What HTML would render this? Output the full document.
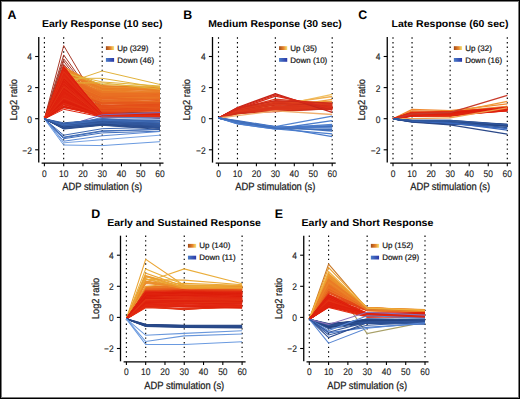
<!DOCTYPE html><html><head><meta charset="utf-8"><style>html,body{margin:0;padding:0;background:#000;width:520px;height:399px;overflow:hidden}#g{position:absolute;left:1px;top:1px;width:518px;height:397px;background:#7a7a7a}#f{position:absolute;left:2px;top:2px;width:516px;height:395px;background:#fff;overflow:hidden}svg{position:absolute;left:-2px;top:-2px}</style></head><body><div id="g"></div><div id="f">
<svg width="520" height="399" viewBox="0 0 520 399" text-rendering="geometricPrecision" font-family='"Liberation Sans", sans-serif'>
<defs><linearGradient id="gup"><stop offset="0" stop-color="#a04a1a"/><stop offset="0.55" stop-color="#e8842a"/><stop offset="1" stop-color="#f2e478"/></linearGradient><linearGradient id="gdn"><stop offset="0" stop-color="#4a7cc8"/><stop offset="1" stop-color="#2a38a8"/></linearGradient></defs>
<text x="7.60" y="18.70" font-size="12.4" font-weight="bold">A</text>
<text x="41.90" y="27.40" font-size="10" font-weight="bold" textLength="120.50" lengthAdjust="spacingAndGlyphs">Early Response (10 sec)</text>
<line x1="44.40" y1="37.35" x2="44.40" y2="160.80" stroke="#000" stroke-width="1.15" stroke-dasharray="1.4 3.23"/>
<line x1="63.67" y1="37.35" x2="63.67" y2="160.80" stroke="#000" stroke-width="1.15" stroke-dasharray="1.4 3.23"/>
<line x1="102.20" y1="37.35" x2="102.20" y2="160.80" stroke="#000" stroke-width="1.15" stroke-dasharray="1.4 3.23"/>
<line x1="160.00" y1="37.35" x2="160.00" y2="160.80" stroke="#000" stroke-width="1.15" stroke-dasharray="1.4 3.23"/>
<text x="183.30" y="18.70" font-size="12.4" font-weight="bold">B</text>
<text x="208.20" y="27.40" font-size="10" font-weight="bold" textLength="133.60" lengthAdjust="spacingAndGlyphs">Medium Response (30 sec)</text>
<line x1="218.50" y1="37.35" x2="218.50" y2="160.80" stroke="#000" stroke-width="1.15" stroke-dasharray="1.4 3.23"/>
<line x1="237.45" y1="37.35" x2="237.45" y2="160.80" stroke="#000" stroke-width="1.15" stroke-dasharray="1.4 3.23"/>
<line x1="275.35" y1="37.35" x2="275.35" y2="160.80" stroke="#000" stroke-width="1.15" stroke-dasharray="1.4 3.23"/>
<line x1="332.20" y1="37.35" x2="332.20" y2="160.80" stroke="#000" stroke-width="1.15" stroke-dasharray="1.4 3.23"/>
<text x="358.30" y="18.70" font-size="12.4" font-weight="bold">C</text>
<text x="391.60" y="27.40" font-size="10" font-weight="bold" textLength="116.80" lengthAdjust="spacingAndGlyphs">Late Response (60 sec)</text>
<line x1="393.00" y1="37.35" x2="393.00" y2="160.80" stroke="#000" stroke-width="1.15" stroke-dasharray="1.4 3.23"/>
<line x1="412.05" y1="37.35" x2="412.05" y2="160.80" stroke="#000" stroke-width="1.15" stroke-dasharray="1.4 3.23"/>
<line x1="450.15" y1="37.35" x2="450.15" y2="160.80" stroke="#000" stroke-width="1.15" stroke-dasharray="1.4 3.23"/>
<line x1="507.30" y1="37.35" x2="507.30" y2="160.80" stroke="#000" stroke-width="1.15" stroke-dasharray="1.4 3.23"/>
<text x="91.30" y="218.00" font-size="12.4" font-weight="bold">D</text>
<text x="107.20" y="226.10" font-size="10" font-weight="bold" textLength="153.70" lengthAdjust="spacingAndGlyphs">Early and Sustained Response</text>
<line x1="126.40" y1="235.55" x2="126.40" y2="359.50" stroke="#000" stroke-width="1.15" stroke-dasharray="1.4 3.23"/>
<line x1="145.68" y1="235.55" x2="145.68" y2="359.50" stroke="#000" stroke-width="1.15" stroke-dasharray="1.4 3.23"/>
<line x1="184.25" y1="235.55" x2="184.25" y2="359.50" stroke="#000" stroke-width="1.15" stroke-dasharray="1.4 3.23"/>
<line x1="242.10" y1="235.55" x2="242.10" y2="359.50" stroke="#000" stroke-width="1.15" stroke-dasharray="1.4 3.23"/>
<text x="274.80" y="218.00" font-size="12.4" font-weight="bold">E</text>
<text x="301.50" y="226.10" font-size="10" font-weight="bold" textLength="131.90" lengthAdjust="spacingAndGlyphs">Early and Short Response</text>
<line x1="309.30" y1="235.55" x2="309.30" y2="359.50" stroke="#000" stroke-width="1.15" stroke-dasharray="1.4 3.23"/>
<line x1="328.58" y1="235.55" x2="328.58" y2="359.50" stroke="#000" stroke-width="1.15" stroke-dasharray="1.4 3.23"/>
<line x1="367.15" y1="235.55" x2="367.15" y2="359.50" stroke="#000" stroke-width="1.15" stroke-dasharray="1.4 3.23"/>
<line x1="425.00" y1="235.55" x2="425.00" y2="359.50" stroke="#000" stroke-width="1.15" stroke-dasharray="1.4 3.23"/>
<polyline points="44.4,118.9 63.7,45.6 102.2,110.9 160.0,114.0" fill="none" stroke="#a83a2a" stroke-width="1.0"/>
<polyline points="44.4,118.9 63.7,54.9 102.2,109.4 160.0,110.9" fill="none" stroke="#a83a2a" stroke-width="1.0"/>
<polyline points="44.4,118.9 63.7,58.8 102.2,107.8 160.0,109.4" fill="none" stroke="#a83a2a" stroke-width="1.0"/>
<polyline points="44.4,118.9 63.7,61.3 102.2,111.7 160.0,112.5" fill="none" stroke="#a83a2a" stroke-width="1.0"/>
<polyline points="44.4,118.9 63.7,64.4 102.2,106.3 160.0,107.8" fill="none" stroke="#a83a2a" stroke-width="1.0"/>
<polyline points="44.4,118.9 63.7,67.1 102.2,110.1 160.0,110.9" fill="none" stroke="#a83a2a" stroke-width="1.0"/>
<polyline points="44.4,118.9 63.7,70.0 102.2,112.5 160.0,113.3" fill="none" stroke="#a83a2a" stroke-width="1.0"/>
<polyline points="44.4,118.9 63.7,97.9 102.2,111.1 160.0,106.4" fill="none" stroke="#e5531a" stroke-width="1.0"/>
<polyline points="44.4,118.9 63.7,89.0 102.2,102.0 160.0,103.9" fill="none" stroke="#e7621e" stroke-width="1.0"/>
<polyline points="44.4,118.9 63.7,86.9 102.2,98.9 160.0,98.3" fill="none" stroke="#e7621f" stroke-width="1.0"/>
<polyline points="44.4,118.9 63.7,88.4 102.2,103.6 160.0,104.9" fill="none" stroke="#e65c1d" stroke-width="1.0"/>
<polyline points="44.4,118.9 63.7,78.2 102.2,97.1 160.0,97.3" fill="none" stroke="#e96d22" stroke-width="1.0"/>
<polyline points="44.4,118.9 63.7,81.2 102.2,97.0 160.0,96.5" fill="none" stroke="#ea7c26" stroke-width="1.0"/>
<polyline points="44.4,118.9 63.7,86.1 102.2,103.0 160.0,101.5" fill="none" stroke="#e65b1d" stroke-width="1.0"/>
<polyline points="44.4,118.9 63.7,87.8 102.2,102.8 160.0,104.3" fill="none" stroke="#e75e1d" stroke-width="1.0"/>
<polyline points="44.4,118.9 63.7,96.0 102.2,106.5 160.0,106.5" fill="none" stroke="#e6581c" stroke-width="1.0"/>
<polyline points="44.4,118.9 63.7,79.2 102.2,93.8 160.0,92.4" fill="none" stroke="#ea7c26" stroke-width="1.0"/>
<polyline points="44.4,118.9 63.7,97.7 102.2,105.7 160.0,106.5" fill="none" stroke="#e55019" stroke-width="1.0"/>
<polyline points="44.4,118.9 63.7,90.4 102.2,103.7 160.0,102.3" fill="none" stroke="#e65a1c" stroke-width="1.0"/>
<polyline points="44.4,118.9 63.7,83.9 102.2,100.0 160.0,98.9" fill="none" stroke="#e96b21" stroke-width="1.0"/>
<polyline points="44.4,118.9 63.7,79.5 102.2,94.7 160.0,93.8" fill="none" stroke="#ea7725" stroke-width="1.0"/>
<polyline points="44.4,118.9 63.7,80.9 102.2,96.5 160.0,94.7" fill="none" stroke="#ea7524" stroke-width="1.0"/>
<polyline points="44.4,118.9 63.7,95.9 102.2,107.5 160.0,105.2" fill="none" stroke="#e5541a" stroke-width="1.0"/>
<polyline points="44.4,118.9 63.7,92.5 102.2,107.9 160.0,106.8" fill="none" stroke="#e44717" stroke-width="1.0"/>
<polyline points="44.4,118.9 63.7,74.2 102.2,92.6 160.0,91.9" fill="none" stroke="#ea7d26" stroke-width="1.0"/>
<polyline points="44.4,118.9 63.7,102.5 102.2,109.1 160.0,108.2" fill="none" stroke="#e44717" stroke-width="1.0"/>
<polyline points="44.4,118.9 63.7,71.4 102.2,85.9 160.0,87.4" fill="none" stroke="#eb902c" stroke-width="1.0"/>
<polyline points="44.4,118.9 63.7,82.3 102.2,98.3 160.0,98.7" fill="none" stroke="#e86921" stroke-width="1.0"/>
<polyline points="44.4,118.9 63.7,67.1 102.2,87.9 160.0,90.0" fill="none" stroke="#eb8128" stroke-width="1.0"/>
<polyline points="44.4,118.9 63.7,93.4 102.2,107.5 160.0,103.5" fill="none" stroke="#e5521a" stroke-width="1.0"/>
<polyline points="44.4,118.9 63.7,99.3 102.2,108.5 160.0,109.8" fill="none" stroke="#e44717" stroke-width="1.0"/>
<polyline points="44.4,118.9 63.7,82.8 102.2,97.8 160.0,98.2" fill="none" stroke="#e86520" stroke-width="1.0"/>
<polyline points="44.4,118.9 63.7,97.0 102.2,105.6 160.0,108.0" fill="none" stroke="#e86820" stroke-width="1.0"/>
<polyline points="44.4,118.9 63.7,74.6 102.2,93.6 160.0,94.7" fill="none" stroke="#ea7b26" stroke-width="1.0"/>
<polyline points="44.4,118.9 63.7,93.0 102.2,102.0 160.0,102.5" fill="none" stroke="#e65d1d" stroke-width="1.0"/>
<polyline points="44.4,118.9 63.7,84.5 102.2,98.0 160.0,98.4" fill="none" stroke="#e96f22" stroke-width="1.0"/>
<polyline points="44.4,118.9 63.7,82.9 102.2,97.8 160.0,98.9" fill="none" stroke="#e96d22" stroke-width="1.0"/>
<polyline points="44.4,118.9 63.7,67.2 102.2,86.5 160.0,88.0" fill="none" stroke="#eb8d2b" stroke-width="1.0"/>
<polyline points="44.4,118.9 63.7,75.5 102.2,92.5 160.0,94.2" fill="none" stroke="#eb7f27" stroke-width="1.0"/>
<polyline points="44.4,118.9 63.7,89.8 102.2,106.2 160.0,106.1" fill="none" stroke="#e5551b" stroke-width="1.0"/>
<polyline points="44.4,118.9 63.7,95.5 102.2,106.1 160.0,105.9" fill="none" stroke="#e44c18" stroke-width="1.0"/>
<polyline points="44.4,118.9 63.7,96.3 102.2,105.1 160.0,107.2" fill="none" stroke="#e65b1d" stroke-width="1.0"/>
<polyline points="44.4,118.9 63.7,82.0 102.2,98.3 160.0,97.5" fill="none" stroke="#ea7825" stroke-width="1.0"/>
<polyline points="44.4,118.9 63.7,102.2 102.2,110.8 160.0,111.0" fill="none" stroke="#e5511a" stroke-width="1.0"/>
<polyline points="44.4,118.9 63.7,70.2 102.2,90.8 160.0,89.2" fill="none" stroke="#eb8328" stroke-width="1.0"/>
<polyline points="44.4,118.9 63.7,101.1 102.2,109.6 160.0,107.5" fill="none" stroke="#e44918" stroke-width="1.0"/>
<polyline points="44.4,118.9 63.7,85.9 102.2,100.1 160.0,103.0" fill="none" stroke="#e7621e" stroke-width="1.0"/>
<polyline points="44.4,118.9 63.7,91.5 102.2,101.7 160.0,103.1" fill="none" stroke="#e86921" stroke-width="1.0"/>
<polyline points="44.4,118.9 63.7,99.0 102.2,109.6 160.0,107.4" fill="none" stroke="#e44617" stroke-width="1.0"/>
<polyline points="44.4,118.9 63.7,95.0 102.2,106.2 160.0,107.6" fill="none" stroke="#e65c1d" stroke-width="1.0"/>
<polyline points="44.4,118.9 63.7,70.3 102.2,88.3 160.0,88.2" fill="none" stroke="#eb932d" stroke-width="1.0"/>
<polyline points="44.4,118.9 63.7,99.7 102.2,110.3 160.0,107.5" fill="none" stroke="#e44f19" stroke-width="1.0"/>
<polyline points="44.4,118.9 63.7,72.1 102.2,88.4 160.0,89.5" fill="none" stroke="#eb8529" stroke-width="1.0"/>
<polyline points="44.4,118.9 63.7,80.2 102.2,97.8 160.0,97.0" fill="none" stroke="#ea7223" stroke-width="1.0"/>
<polyline points="44.4,118.9 63.7,91.9 102.2,106.4 160.0,106.1" fill="none" stroke="#e5521a" stroke-width="1.0"/>
<polyline points="44.4,118.9 63.7,96.7 102.2,111.9 160.0,109.3" fill="none" stroke="#e34316" stroke-width="1.0"/>
<polyline points="44.4,118.9 63.7,73.4 102.2,87.6 160.0,90.7" fill="none" stroke="#eb8529" stroke-width="1.0"/>
<polyline points="44.4,118.9 63.7,86.8 102.2,101.4 160.0,99.6" fill="none" stroke="#ea7223" stroke-width="1.0"/>
<polyline points="44.4,118.9 63.7,83.0 102.2,97.3 160.0,98.9" fill="none" stroke="#ea7424" stroke-width="1.0"/>
<polyline points="44.4,118.9 63.7,80.5 102.2,95.9 160.0,95.0" fill="none" stroke="#ea7123" stroke-width="1.0"/>
<polyline points="44.4,118.9 63.7,69.1 102.2,86.5 160.0,87.1" fill="none" stroke="#eb8428" stroke-width="1.0"/>
<polyline points="44.4,118.9 63.7,83.5 102.2,98.6 160.0,98.3" fill="none" stroke="#ea7424" stroke-width="1.0"/>
<polyline points="44.4,118.9 63.7,94.9 102.2,110.4 160.0,107.5" fill="none" stroke="#e44b18" stroke-width="1.0"/>
<polyline points="44.4,118.9 63.7,78.1 102.2,91.9 160.0,93.8" fill="none" stroke="#ea7725" stroke-width="1.0"/>
<polyline points="44.4,118.9 63.7,88.6 102.2,103.9 160.0,101.7" fill="none" stroke="#e7601e" stroke-width="1.0"/>
<polyline points="44.4,118.9 63.7,80.4 102.2,96.6 160.0,95.7" fill="none" stroke="#e96e22" stroke-width="1.0"/>
<polyline points="44.4,118.9 63.7,76.8 102.2,94.8 160.0,93.6" fill="none" stroke="#eb8027" stroke-width="1.0"/>
<polyline points="44.4,118.9 63.7,76.8 102.2,93.3 160.0,93.0" fill="none" stroke="#ea7624" stroke-width="1.0"/>
<polyline points="44.4,118.9 63.7,81.1 102.2,95.0 160.0,95.9" fill="none" stroke="#e96b21" stroke-width="1.0"/>
<polyline points="44.4,118.9 63.7,80.3 102.2,94.3 160.0,95.2" fill="none" stroke="#ea7b26" stroke-width="1.0"/>
<polyline points="44.4,118.9 63.7,87.5 102.2,101.9 160.0,101.8" fill="none" stroke="#e86720" stroke-width="1.0"/>
<polyline points="44.4,118.9 63.7,82.3 102.2,97.4 160.0,97.3" fill="none" stroke="#e96f22" stroke-width="1.0"/>
<polyline points="44.4,118.9 63.7,76.1 102.2,93.0 160.0,93.2" fill="none" stroke="#ea7223" stroke-width="1.0"/>
<polyline points="44.4,118.9 63.7,98.3 102.2,111.3 160.0,108.6" fill="none" stroke="#e6571b" stroke-width="1.0"/>
<polyline points="44.4,118.9 63.7,84.1 102.2,98.2 160.0,96.3" fill="none" stroke="#e96f22" stroke-width="1.0"/>
<polyline points="44.4,118.9 63.7,82.2 102.2,98.4 160.0,98.0" fill="none" stroke="#ea7224" stroke-width="1.0"/>
<polyline points="44.4,118.9 63.7,93.7 102.2,106.9 160.0,105.9" fill="none" stroke="#e55119" stroke-width="1.0"/>
<polyline points="44.4,118.9 63.7,82.1 102.2,96.4 160.0,94.7" fill="none" stroke="#ea7223" stroke-width="1.0"/>
<polyline points="44.4,118.9 63.7,82.1 102.2,97.4 160.0,98.2" fill="none" stroke="#e97023" stroke-width="1.0"/>
<polyline points="44.4,118.9 63.7,73.3 102.2,91.1 160.0,94.1" fill="none" stroke="#eb8529" stroke-width="1.0"/>
<polyline points="44.4,118.9 63.7,79.9 102.2,96.8 160.0,98.0" fill="none" stroke="#eb7f27" stroke-width="1.0"/>
<polyline points="44.4,118.9 63.7,86.6 102.2,101.0 160.0,97.8" fill="none" stroke="#e96c21" stroke-width="1.0"/>
<polyline points="44.4,118.9 63.7,85.2 102.2,95.6 160.0,98.6" fill="none" stroke="#ea7825" stroke-width="1.0"/>
<polyline points="44.4,118.9 63.7,91.6 102.2,104.1 160.0,100.3" fill="none" stroke="#e65c1d" stroke-width="1.0"/>
<polyline points="44.4,118.9 63.7,98.3 102.2,112.9 160.0,110.0" fill="none" stroke="#e33614" stroke-width="1.0"/>
<polyline points="44.4,118.9 63.7,90.2 102.2,100.5 160.0,103.6" fill="none" stroke="#e75f1e" stroke-width="1.0"/>
<polyline points="44.4,118.9 63.7,91.7 102.2,102.7 160.0,103.0" fill="none" stroke="#e5551b" stroke-width="1.0"/>
<polyline points="44.4,118.9 63.7,72.3 102.2,90.2 160.0,91.6" fill="none" stroke="#ea7e27" stroke-width="1.0"/>
<polyline points="44.4,118.9 63.7,84.0 102.2,96.3 160.0,98.0" fill="none" stroke="#ea7825" stroke-width="1.0"/>
<polyline points="44.4,118.9 63.7,82.2 102.2,95.6 160.0,98.6" fill="none" stroke="#ea7624" stroke-width="1.0"/>
<polyline points="44.4,118.9 63.7,71.4 102.2,89.1 160.0,92.6" fill="none" stroke="#eb8027" stroke-width="1.0"/>
<polyline points="44.4,118.9 63.7,100.8 102.2,111.9 160.0,109.3" fill="none" stroke="#e22e13" stroke-width="1.0"/>
<polyline points="44.4,118.9 63.7,85.3 102.2,98.4 160.0,100.2" fill="none" stroke="#e8641f" stroke-width="1.0"/>
<polyline points="44.4,118.9 63.7,94.7 102.2,107.6 160.0,105.7" fill="none" stroke="#e5561b" stroke-width="1.0"/>
<polyline points="44.4,118.9 63.7,69.3 102.2,85.5 160.0,88.6" fill="none" stroke="#ea7d26" stroke-width="1.0"/>
<polyline points="44.4,118.9 63.7,96.5 102.2,108.2 160.0,105.1" fill="none" stroke="#e44b18" stroke-width="1.0"/>
<polyline points="44.4,118.9 63.7,68.5 102.2,87.7 160.0,90.7" fill="none" stroke="#eb8f2b" stroke-width="1.0"/>
<polyline points="44.4,118.9 63.7,72.8 102.2,87.5 160.0,89.4" fill="none" stroke="#eb8a2a" stroke-width="1.0"/>
<polyline points="44.4,118.9 63.7,102.6 102.2,112.1 160.0,110.3" fill="none" stroke="#e44d18" stroke-width="1.0"/>
<polyline points="44.4,118.9 63.7,83.0 102.2,97.6 160.0,98.5" fill="none" stroke="#ea7625" stroke-width="1.0"/>
<polyline points="44.4,118.9 63.7,78.4 102.2,93.6 160.0,94.8" fill="none" stroke="#ea7324" stroke-width="1.0"/>
<polyline points="44.4,118.9 63.7,77.4 102.2,95.9 160.0,93.8" fill="none" stroke="#ea7725" stroke-width="1.0"/>
<polyline points="44.4,118.9 63.7,98.5 102.2,109.8 160.0,110.8" fill="none" stroke="#e34216" stroke-width="1.0"/>
<polyline points="44.4,118.9 63.7,96.1 102.2,110.9 160.0,109.5" fill="none" stroke="#e44d18" stroke-width="1.0"/>
<polyline points="44.4,118.9 63.7,73.4 102.2,88.1 160.0,90.3" fill="none" stroke="#ea7c26" stroke-width="1.0"/>
<polyline points="44.4,118.9 63.7,88.5 102.2,100.2 160.0,101.5" fill="none" stroke="#e96d22" stroke-width="1.0"/>
<polyline points="44.4,118.9 63.7,69.9 102.2,87.2 160.0,88.0" fill="none" stroke="#eb8d2b" stroke-width="1.0"/>
<polyline points="44.4,118.9 63.7,102.4 102.2,110.3 160.0,109.4" fill="none" stroke="#e55119" stroke-width="1.0"/>
<polyline points="44.4,118.9 63.7,80.0 102.2,96.3 160.0,96.0" fill="none" stroke="#ea7223" stroke-width="1.0"/>
<polyline points="44.4,118.9 63.7,96.2 102.2,107.7 160.0,107.8" fill="none" stroke="#e55119" stroke-width="1.0"/>
<polyline points="44.4,118.9 63.7,81.7 102.2,98.0 160.0,94.4" fill="none" stroke="#e86820" stroke-width="1.0"/>
<polyline points="44.4,118.9 63.7,96.8 102.2,108.6 160.0,105.9" fill="none" stroke="#e6591c" stroke-width="1.0"/>
<polyline points="44.4,118.9 63.7,91.5 102.2,104.0 160.0,105.1" fill="none" stroke="#e65a1c" stroke-width="1.0"/>
<polyline points="44.4,118.9 63.7,72.5 102.2,91.4 160.0,92.6" fill="none" stroke="#ea7f27" stroke-width="1.0"/>
<polyline points="44.4,118.9 63.7,71.5 102.2,89.4 160.0,90.4" fill="none" stroke="#ea7d26" stroke-width="1.0"/>
<polyline points="44.4,118.9 63.7,76.7 102.2,90.1 160.0,93.8" fill="none" stroke="#eb8829" stroke-width="1.0"/>
<polyline points="44.4,118.9 63.7,94.1 102.2,105.8 160.0,106.9" fill="none" stroke="#e6581c" stroke-width="1.0"/>
<polyline points="44.4,118.9 63.7,85.9 102.2,101.9 160.0,98.8" fill="none" stroke="#e96c22" stroke-width="1.0"/>
<polyline points="44.4,118.9 63.7,96.9 102.2,109.0 160.0,106.1" fill="none" stroke="#e5511a" stroke-width="1.0"/>
<polyline points="44.4,118.9 63.7,75.6 102.2,92.4 160.0,93.3" fill="none" stroke="#ea7a26" stroke-width="1.0"/>
<polyline points="44.4,118.9 63.7,72.1 102.2,89.2 160.0,89.2" fill="none" stroke="#eb8127" stroke-width="1.0"/>
<polyline points="44.4,118.9 63.7,77.6 102.2,96.4 160.0,95.6" fill="none" stroke="#e96a21" stroke-width="1.0"/>
<polyline points="44.4,118.9 63.7,78.4 102.2,91.5 160.0,93.2" fill="none" stroke="#ea7925" stroke-width="1.0"/>
<polyline points="44.4,118.9 63.7,79.8 102.2,93.8 160.0,93.4" fill="none" stroke="#e96f22" stroke-width="1.0"/>
<polyline points="44.4,118.9 63.7,97.5 102.2,106.2 160.0,108.0" fill="none" stroke="#e65c1d" stroke-width="1.0"/>
<polyline points="44.4,118.9 63.7,75.4 102.2,95.3 160.0,95.3" fill="none" stroke="#e96f23" stroke-width="1.0"/>
<polyline points="44.4,118.9 63.7,80.4 102.2,95.0 160.0,93.4" fill="none" stroke="#e96f23" stroke-width="1.0"/>
<polyline points="44.4,118.9 63.7,101.2 102.2,112.1 160.0,110.8" fill="none" stroke="#e44e19" stroke-width="1.0"/>
<polyline points="44.4,118.9 63.7,84.7 102.2,99.0 160.0,99.7" fill="none" stroke="#e96c21" stroke-width="1.0"/>
<polyline points="44.4,118.9 63.7,82.0 102.2,98.0 160.0,99.8" fill="none" stroke="#e86720" stroke-width="1.0"/>
<polyline points="44.4,118.9 63.7,93.1 102.2,106.2 160.0,104.2" fill="none" stroke="#e44c18" stroke-width="1.0"/>
<polyline points="44.4,118.9 63.7,96.1 102.2,105.4 160.0,105.0" fill="none" stroke="#e55019" stroke-width="1.0"/>
<polyline points="44.4,118.9 63.7,84.0 102.2,71.0 160.0,84.5" fill="none" stroke="#e2b23a" stroke-width="1.0"/>
<polyline points="44.4,118.9 63.7,73.0 102.2,82.0 160.0,86.0" fill="none" stroke="#e2b23a" stroke-width="1.0"/>
<polyline points="44.4,118.9 63.7,78.3 102.2,78.3 160.0,87.6" fill="none" stroke="#e2b23a" stroke-width="1.0"/>
<polyline points="44.4,118.9 63.7,82.9 102.2,82.9 160.0,89.2" fill="none" stroke="#e2b23a" stroke-width="1.0"/>
<polyline points="44.4,118.9 63.7,72.0 102.2,84.5 160.0,86.8" fill="none" stroke="#e2b23a" stroke-width="1.0"/>
<polyline points="44.4,118.9 63.7,74.0 102.2,114.3 160.0,114.2" fill="none" stroke="#df210d" stroke-width="1.0"/>
<polyline points="44.4,118.9 63.7,98.9 102.2,115.3 160.0,116.0" fill="none" stroke="#e12610" stroke-width="1.0"/>
<polyline points="44.4,118.9 63.7,71.7 102.2,116.5 160.0,116.8" fill="none" stroke="#de210d" stroke-width="1.0"/>
<polyline points="44.4,118.9 63.7,95.4 102.2,114.4 160.0,115.0" fill="none" stroke="#df210d" stroke-width="1.0"/>
<polyline points="44.4,118.9 63.7,77.7 102.2,115.0 160.0,117.4" fill="none" stroke="#e22a12" stroke-width="1.0"/>
<polyline points="44.4,118.9 63.7,75.5 102.2,113.7 160.0,116.5" fill="none" stroke="#e12711" stroke-width="1.0"/>
<polyline points="44.4,118.9 63.7,82.9 102.2,114.9 160.0,115.8" fill="none" stroke="#dd1e0b" stroke-width="1.0"/>
<polyline points="44.4,118.9 63.7,83.3 102.2,116.9 160.0,117.2" fill="none" stroke="#dd1d0b" stroke-width="1.0"/>
<polyline points="44.4,118.9 63.7,81.5 102.2,115.7 160.0,117.1" fill="none" stroke="#dd1d0b" stroke-width="1.0"/>
<polyline points="44.4,118.9 63.7,78.2 102.2,115.4 160.0,114.7" fill="none" stroke="#de200c" stroke-width="1.0"/>
<polyline points="44.4,118.9 63.7,94.9 102.2,113.7 160.0,116.5" fill="none" stroke="#e22e13" stroke-width="1.0"/>
<polyline points="44.4,118.9 63.7,74.6 102.2,114.5 160.0,117.2" fill="none" stroke="#dd1e0b" stroke-width="1.0"/>
<polyline points="44.4,118.9 63.7,89.0 102.2,113.6 160.0,114.1" fill="none" stroke="#e22711" stroke-width="1.0"/>
<polyline points="44.4,118.9 63.7,103.7 102.2,117.0 160.0,117.4" fill="none" stroke="#de210d" stroke-width="1.0"/>
<polyline points="44.4,118.9 63.7,91.2 102.2,114.3 160.0,116.2" fill="none" stroke="#e0240f" stroke-width="1.0"/>
<polyline points="44.4,118.9 63.7,97.4 102.2,114.3 160.0,116.6" fill="none" stroke="#e22b12" stroke-width="1.0"/>
<polyline points="44.4,118.9 63.7,102.9 102.2,117.0 160.0,113.7" fill="none" stroke="#de210d" stroke-width="1.0"/>
<polyline points="44.4,118.9 63.7,106.8 102.2,115.0 160.0,117.4" fill="none" stroke="#e33114" stroke-width="1.0"/>
<polyline points="44.4,118.9 63.7,72.5 102.2,115.2 160.0,115.9" fill="none" stroke="#de210d" stroke-width="1.0"/>
<polyline points="44.4,118.9 63.7,77.7 102.2,115.2 160.0,117.9" fill="none" stroke="#df210e" stroke-width="1.0"/>
<polyline points="44.4,118.9 63.7,89.8 102.2,115.0 160.0,115.3" fill="none" stroke="#e12711" stroke-width="1.0"/>
<polyline points="44.4,118.9 63.7,69.7 102.2,116.8 160.0,115.0" fill="none" stroke="#e22a12" stroke-width="1.0"/>
<polyline points="44.4,118.9 63.7,90.7 102.2,114.0 160.0,115.4" fill="none" stroke="#de210d" stroke-width="1.0"/>
<polyline points="44.4,118.9 63.7,92.3 102.2,115.2 160.0,116.5" fill="none" stroke="#dd1e0c" stroke-width="1.0"/>
<polyline points="44.4,118.9 63.7,101.1 102.2,117.3 160.0,115.3" fill="none" stroke="#de200d" stroke-width="1.0"/>
<polyline points="44.4,118.9 63.7,80.0 102.2,117.4 160.0,115.2" fill="none" stroke="#e12610" stroke-width="1.0"/>
<polyline points="44.4,118.9 63.7,91.6 102.2,114.9 160.0,115.6" fill="none" stroke="#df220e" stroke-width="1.0"/>
<polyline points="44.4,118.9 63.7,89.3 102.2,117.1 160.0,115.6" fill="none" stroke="#de210d" stroke-width="1.0"/>
<polyline points="44.4,118.9 63.7,91.7 102.2,115.5 160.0,117.8" fill="none" stroke="#dd1d0b" stroke-width="1.0"/>
<polyline points="44.4,118.9 63.7,76.1 102.2,114.0 160.0,114.7" fill="none" stroke="#e33214" stroke-width="1.0"/>
<polyline points="44.4,118.9 63.7,74.3 102.2,113.8 160.0,115.9" fill="none" stroke="#e22d13" stroke-width="1.0"/>
<polyline points="44.4,118.9 63.7,106.8 102.2,115.9 160.0,114.2" fill="none" stroke="#dd1e0b" stroke-width="1.0"/>
<polyline points="44.4,118.9 63.7,105.0 102.2,115.1 160.0,117.5" fill="none" stroke="#e12611" stroke-width="1.0"/>
<polyline points="44.4,118.9 63.7,93.6 102.2,116.4 160.0,115.4" fill="none" stroke="#e22c13" stroke-width="1.0"/>
<polyline points="44.4,118.9 63.7,84.8 102.2,116.5 160.0,117.2" fill="none" stroke="#df230e" stroke-width="1.0"/>
<polyline points="44.4,118.9 63.7,76.5 102.2,114.8 160.0,115.8" fill="none" stroke="#e22d13" stroke-width="1.0"/>
<polyline points="44.4,118.9 63.7,67.4 102.2,115.4 160.0,113.5" fill="none" stroke="#dd1e0b" stroke-width="1.0"/>
<polyline points="44.4,118.9 63.7,107.0 102.2,116.4 160.0,117.2" fill="none" stroke="#df210d" stroke-width="1.0"/>
<polyline points="44.4,118.9 63.7,81.7 102.2,116.4 160.0,113.5" fill="none" stroke="#e22f13" stroke-width="1.0"/>
<polyline points="44.4,118.9 63.7,74.8 102.2,115.6 160.0,114.5" fill="none" stroke="#dd1e0b" stroke-width="1.0"/>
<polyline points="44.4,118.9 63.7,84.0 102.2,116.6 160.0,116.6" fill="none" stroke="#e22c13" stroke-width="1.0"/>
<polyline points="44.4,118.9 63.7,101.1 102.2,115.1 160.0,115.7" fill="none" stroke="#e22c13" stroke-width="1.0"/>
<polyline points="44.4,118.9 63.7,73.2 102.2,116.5 160.0,114.3" fill="none" stroke="#df210d" stroke-width="1.0"/>
<polyline points="44.4,118.9 63.7,86.2 102.2,114.7 160.0,116.2" fill="none" stroke="#de1f0c" stroke-width="1.0"/>
<polyline points="44.4,118.9 63.7,85.8 102.2,115.6 160.0,114.9" fill="none" stroke="#e22812" stroke-width="1.0"/>
<polyline points="44.4,118.9 63.7,75.1 102.2,114.9 160.0,115.7" fill="none" stroke="#dd1e0c" stroke-width="1.0"/>
<polyline points="44.4,118.9 63.7,72.7 102.2,115.5 160.0,114.6" fill="none" stroke="#de200c" stroke-width="1.0"/>
<polyline points="44.4,118.9 63.7,81.6 102.2,115.0 160.0,116.1" fill="none" stroke="#dd1d0b" stroke-width="1.0"/>
<polyline points="44.4,118.9 63.7,94.2 102.2,116.0 160.0,114.6" fill="none" stroke="#e22b13" stroke-width="1.0"/>
<polyline points="44.4,118.9 63.7,67.8 102.2,113.7 160.0,115.1" fill="none" stroke="#e12611" stroke-width="1.0"/>
<polyline points="44.4,118.9 63.7,78.8 102.2,114.1 160.0,115.4" fill="none" stroke="#de200c" stroke-width="1.0"/>
<polyline points="44.4,118.9 63.7,88.5 102.2,115.3 160.0,117.3" fill="none" stroke="#e22812" stroke-width="1.0"/>
<polyline points="44.4,118.9 63.7,98.8 102.2,114.6 160.0,115.2" fill="none" stroke="#e12611" stroke-width="1.0"/>
<polyline points="44.4,118.9 63.7,99.5 102.2,117.4 160.0,115.7" fill="none" stroke="#e12611" stroke-width="1.0"/>
<polyline points="44.4,118.9 63.7,99.2 102.2,115.6 160.0,115.3" fill="none" stroke="#de1f0c" stroke-width="1.0"/>
<polyline points="44.4,118.9 63.7,67.2 102.2,114.5 160.0,115.9" fill="none" stroke="#e02510" stroke-width="1.0"/>
<polyline points="44.4,118.9 63.7,72.7 102.2,114.7 160.0,115.8" fill="none" stroke="#e12611" stroke-width="1.0"/>
<polyline points="44.4,118.9 63.7,75.9 102.2,116.9 160.0,114.6" fill="none" stroke="#de200d" stroke-width="1.0"/>
<polyline points="44.4,118.9 63.7,84.2 102.2,114.2 160.0,115.3" fill="none" stroke="#e23013" stroke-width="1.0"/>
<polyline points="44.4,118.9 63.7,92.8 102.2,115.3 160.0,116.3" fill="none" stroke="#e02410" stroke-width="1.0"/>
<polyline points="44.4,118.9 63.7,72.0 102.2,115.8 160.0,115.6" fill="none" stroke="#de1f0c" stroke-width="1.0"/>
<polyline points="44.4,118.9 63.7,101.0 102.2,116.5 160.0,117.6" fill="none" stroke="#df230f" stroke-width="1.0"/>
<polyline points="44.4,118.9 63.7,97.4 102.2,116.5 160.0,116.0" fill="none" stroke="#e12510" stroke-width="1.0"/>
<polyline points="44.4,118.9 63.7,71.6 102.2,115.0 160.0,116.2" fill="none" stroke="#dd1e0b" stroke-width="1.0"/>
<polyline points="44.4,118.9 63.7,83.7 102.2,114.4 160.0,116.4" fill="none" stroke="#de1f0c" stroke-width="1.0"/>
<polyline points="44.4,118.9 63.7,106.3 102.2,116.5 160.0,114.6" fill="none" stroke="#e22c13" stroke-width="1.0"/>
<polyline points="44.4,118.9 63.7,71.1 102.2,115.3 160.0,118.0" fill="none" stroke="#e02410" stroke-width="1.0"/>
<polyline points="44.4,118.9 63.7,71.7 102.2,114.6 160.0,115.1" fill="none" stroke="#e22711" stroke-width="1.0"/>
<polyline points="44.4,118.9 63.7,69.6 102.2,113.9 160.0,113.7" fill="none" stroke="#dc1d0a" stroke-width="1.0"/>
<polyline points="44.4,118.9 63.7,72.4 102.2,114.4 160.0,113.9" fill="none" stroke="#e23113" stroke-width="1.0"/>
<polyline points="44.4,118.9 63.7,99.3 102.2,115.3 160.0,114.2" fill="none" stroke="#e22812" stroke-width="1.0"/>
<polyline points="44.4,118.9 63.7,90.3 102.2,115.2 160.0,114.1" fill="none" stroke="#de1f0c" stroke-width="1.0"/>
<polyline points="44.4,118.9 63.7,84.6 102.2,114.7 160.0,114.7" fill="none" stroke="#de210d" stroke-width="1.0"/>
<polyline points="44.4,118.9 63.7,67.1 102.2,116.9 160.0,114.7" fill="none" stroke="#e22711" stroke-width="1.0"/>
<polyline points="44.4,118.9 63.7,80.2 102.2,115.3 160.0,114.4" fill="none" stroke="#de210d" stroke-width="1.0"/>
<polyline points="44.4,118.9 63.7,97.1 102.2,115.9 160.0,116.4" fill="none" stroke="#de200d" stroke-width="1.0"/>
<polyline points="44.4,118.9 63.7,89.9 102.2,116.6 160.0,116.0" fill="none" stroke="#df210e" stroke-width="1.0"/>
<polyline points="44.4,118.9 63.7,101.1 102.2,114.6 160.0,115.1" fill="none" stroke="#e12510" stroke-width="1.0"/>
<polyline points="44.4,118.9 63.7,101.3 102.2,114.8 160.0,116.0" fill="none" stroke="#de200d" stroke-width="1.0"/>
<polyline points="44.4,118.9 63.7,80.6 102.2,114.8 160.0,116.0" fill="none" stroke="#e12711" stroke-width="1.0"/>
<polyline points="44.4,118.9 63.7,72.3 102.2,114.7 160.0,117.1" fill="none" stroke="#e12711" stroke-width="1.0"/>
<polyline points="44.4,118.9 63.7,88.1 102.2,114.6 160.0,116.8" fill="none" stroke="#de1f0c" stroke-width="1.0"/>
<polyline points="44.4,118.9 63.7,73.2 102.2,115.9 160.0,116.7" fill="none" stroke="#e22c13" stroke-width="1.0"/>
<polyline points="44.4,118.9 63.7,69.8 102.2,117.0 160.0,115.0" fill="none" stroke="#de200d" stroke-width="1.0"/>
<polyline points="44.4,118.9 63.7,79.1 102.2,114.2 160.0,117.4" fill="none" stroke="#de1f0c" stroke-width="1.0"/>
<polyline points="44.4,118.9 63.7,77.8 102.2,115.7 160.0,114.3" fill="none" stroke="#dc1d0b" stroke-width="1.0"/>
<polyline points="44.4,118.9 63.7,82.4 102.2,114.6 160.0,114.1" fill="none" stroke="#e12711" stroke-width="1.0"/>
<polyline points="44.4,118.9 63.7,96.5 102.2,114.8 160.0,116.7" fill="none" stroke="#df220e" stroke-width="1.0"/>
<polyline points="44.4,118.9 63.7,72.2 102.2,115.5 160.0,114.7" fill="none" stroke="#dd1e0b" stroke-width="1.0"/>
<polyline points="44.4,118.9 63.7,88.6 102.2,114.3 160.0,115.2" fill="none" stroke="#e33114" stroke-width="1.0"/>
<polyline points="44.4,118.9 63.7,80.5 102.2,115.7 160.0,115.4" fill="none" stroke="#e02510" stroke-width="1.0"/>
<polyline points="44.4,118.9 63.7,87.2 102.2,114.2 160.0,113.9" fill="none" stroke="#e22a12" stroke-width="1.0"/>
<polyline points="44.4,118.9 63.7,75.1 102.2,117.2 160.0,115.3" fill="none" stroke="#e23113" stroke-width="1.0"/>
<polyline points="44.4,118.9 63.7,96.4 102.2,115.9 160.0,115.4" fill="none" stroke="#dc1c0a" stroke-width="1.0"/>
<polyline points="44.4,118.9 63.7,75.8 102.2,116.0 160.0,114.5" fill="none" stroke="#e22b12" stroke-width="1.0"/>
<polyline points="44.4,118.9 63.7,89.7 102.2,114.6 160.0,115.4" fill="none" stroke="#e12611" stroke-width="1.0"/>
<polyline points="44.4,118.9 63.7,81.6 102.2,114.0 160.0,114.3" fill="none" stroke="#e22711" stroke-width="1.0"/>
<polyline points="44.4,118.9 63.7,97.4 102.2,113.7 160.0,114.9" fill="none" stroke="#dc1c0a" stroke-width="1.0"/>
<polyline points="44.4,118.9 63.7,82.2 102.2,117.1 160.0,114.6" fill="none" stroke="#df220e" stroke-width="1.0"/>
<polyline points="44.4,118.9 63.7,99.8 102.2,115.6 160.0,116.0" fill="none" stroke="#e12711" stroke-width="1.0"/>
<polyline points="44.4,118.9 63.7,85.2 102.2,115.4 160.0,117.7" fill="none" stroke="#e22b12" stroke-width="1.0"/>
<polyline points="44.4,118.9 63.7,80.4 102.2,116.6 160.0,116.2" fill="none" stroke="#dd1e0b" stroke-width="1.0"/>
<polyline points="44.4,118.9 63.7,89.6 102.2,115.1 160.0,115.1" fill="none" stroke="#e12510" stroke-width="1.0"/>
<polyline points="44.4,118.9 63.7,80.0 102.2,115.6 160.0,116.1" fill="none" stroke="#e22b13" stroke-width="1.0"/>
<polyline points="44.4,118.9 63.7,83.7 102.2,117.8 160.0,114.9" fill="none" stroke="#df220e" stroke-width="1.0"/>
<polyline points="44.4,118.9 63.7,107.9 102.2,114.5 160.0,117.1" fill="none" stroke="#e22a12" stroke-width="1.0"/>
<polyline points="44.4,118.9 63.7,90.6 102.2,114.8 160.0,115.9" fill="none" stroke="#e12611" stroke-width="1.0"/>
<polyline points="44.4,118.9 63.7,87.9 102.2,115.3 160.0,117.1" fill="none" stroke="#dd1e0c" stroke-width="1.0"/>
<polyline points="44.4,118.9 63.7,79.1 102.2,115.2 160.0,115.6" fill="none" stroke="#e23113" stroke-width="1.0"/>
<polyline points="44.4,118.9 63.7,101.3 102.2,116.2 160.0,113.4" fill="none" stroke="#de210d" stroke-width="1.0"/>
<polyline points="44.4,118.9 63.7,98.9 102.2,114.2 160.0,117.0" fill="none" stroke="#e12610" stroke-width="1.0"/>
<polyline points="44.4,118.9 63.7,109.3 102.2,117.1 160.0,114.8" fill="none" stroke="#e02510" stroke-width="1.0"/>
<polyline points="44.4,118.9 63.7,87.5 102.2,114.6 160.0,114.8" fill="none" stroke="#e22e13" stroke-width="1.0"/>
<polyline points="44.4,118.9 63.7,83.8 102.2,116.9 160.0,114.5" fill="none" stroke="#dd1f0c" stroke-width="1.0"/>
<polyline points="44.4,118.9 63.7,72.9 102.2,116.2 160.0,115.8" fill="none" stroke="#df220e" stroke-width="1.0"/>
<polyline points="44.4,118.9 63.7,103.3 102.2,113.9 160.0,113.7" fill="none" stroke="#dd1d0b" stroke-width="1.0"/>
<polyline points="44.4,118.9 63.7,105.8 102.2,115.6 160.0,113.9" fill="none" stroke="#e22d13" stroke-width="1.0"/>
<polyline points="44.4,118.9 63.7,71.0 102.2,117.2 160.0,116.8" fill="none" stroke="#e22812" stroke-width="1.0"/>
<polyline points="44.4,118.9 63.7,96.3 102.2,115.5 160.0,114.3" fill="none" stroke="#e0240f" stroke-width="1.0"/>
<polyline points="44.4,118.9 63.7,79.4 102.2,114.8 160.0,113.5" fill="none" stroke="#e12611" stroke-width="1.0"/>
<polyline points="44.4,118.9 63.7,104.7 102.2,113.9 160.0,116.5" fill="none" stroke="#e12610" stroke-width="1.0"/>
<polyline points="44.4,118.9 63.7,87.5 102.2,116.6 160.0,114.1" fill="none" stroke="#dc1c0a" stroke-width="1.0"/>
<polyline points="44.4,118.9 63.7,81.4 102.2,115.0 160.0,114.8" fill="none" stroke="#dd1f0c" stroke-width="1.0"/>
<polyline points="44.4,118.9 63.7,80.3 102.2,114.5 160.0,115.5" fill="none" stroke="#de210d" stroke-width="1.0"/>
<polyline points="44.4,118.9 63.7,82.6 102.2,114.0 160.0,113.7" fill="none" stroke="#e02410" stroke-width="1.0"/>
<polyline points="44.4,118.9 63.7,78.8 102.2,114.4 160.0,116.6" fill="none" stroke="#df220e" stroke-width="1.0"/>
<polyline points="44.4,118.9 63.7,80.5 102.2,117.5 160.0,117.3" fill="none" stroke="#de210d" stroke-width="1.0"/>
<polyline points="44.4,118.9 63.7,78.3 102.2,113.2 160.0,113.7" fill="none" stroke="#de200c" stroke-width="1.0"/>
<polyline points="44.4,118.9 63.7,70.7 102.2,113.9 160.0,115.9" fill="none" stroke="#e12610" stroke-width="1.0"/>
<polyline points="44.4,118.9 63.7,91.9 102.2,114.6 160.0,115.4" fill="none" stroke="#e0240f" stroke-width="1.0"/>
<polyline points="44.4,118.9 63.7,89.2 102.2,114.2 160.0,117.6" fill="none" stroke="#e0230f" stroke-width="1.0"/>
<polyline points="44.4,118.9 63.7,89.5 102.2,115.0 160.0,116.4" fill="none" stroke="#e0230f" stroke-width="1.0"/>
<polyline points="44.4,118.9 63.7,102.0 102.2,114.7 160.0,116.6" fill="none" stroke="#e0240f" stroke-width="1.0"/>
<polyline points="44.4,118.9 63.7,104.2 102.2,116.9 160.0,117.6" fill="none" stroke="#e0230f" stroke-width="1.0"/>
<polyline points="44.4,118.9 63.7,86.1 102.2,116.4 160.0,115.8" fill="none" stroke="#de200c" stroke-width="1.0"/>
<polyline points="44.4,118.9 63.7,96.1 102.2,115.8 160.0,117.8" fill="none" stroke="#e22711" stroke-width="1.0"/>
<polyline points="44.4,118.9 63.7,85.2 102.2,116.4 160.0,114.2" fill="none" stroke="#e22d13" stroke-width="1.0"/>
<polyline points="44.4,118.9 63.7,70.8 102.2,116.6 160.0,114.1" fill="none" stroke="#e22d13" stroke-width="1.0"/>
<polyline points="44.4,118.9 63.7,100.7 102.2,115.4 160.0,117.5" fill="none" stroke="#dc1d0a" stroke-width="1.0"/>
<polyline points="44.4,118.9 63.7,79.4 102.2,117.4 160.0,115.7" fill="none" stroke="#e02510" stroke-width="1.0"/>
<polyline points="44.4,118.9 63.7,81.6 102.2,114.4 160.0,114.4" fill="none" stroke="#e23013" stroke-width="1.0"/>
<polyline points="44.4,118.9 63.7,88.0 102.2,115.0 160.0,114.7" fill="none" stroke="#e22b13" stroke-width="1.0"/>
<polyline points="44.4,118.9 63.7,79.9 102.2,116.2 160.0,116.1" fill="none" stroke="#df220e" stroke-width="1.0"/>
<polyline points="44.4,118.9 63.7,82.7 102.2,115.2 160.0,114.8" fill="none" stroke="#e22812" stroke-width="1.0"/>
<polyline points="44.4,118.9 63.7,71.9 102.2,117.7 160.0,116.1" fill="none" stroke="#e22a12" stroke-width="1.0"/>
<polyline points="44.4,118.9 63.7,88.9 102.2,117.7 160.0,117.0" fill="none" stroke="#e23013" stroke-width="1.0"/>
<polyline points="44.4,118.9 63.7,83.1 102.2,116.5 160.0,114.7" fill="none" stroke="#de200d" stroke-width="1.0"/>
<polyline points="44.4,118.9 63.7,103.9 102.2,114.1 160.0,114.4" fill="none" stroke="#dc1d0a" stroke-width="1.0"/>
<polyline points="44.4,118.9 63.7,88.6 102.2,116.1 160.0,114.8" fill="none" stroke="#e22712" stroke-width="1.0"/>
<polyline points="44.4,118.9 63.7,103.5 102.2,114.5 160.0,117.8" fill="none" stroke="#e22b13" stroke-width="1.0"/>
<polyline points="44.4,118.9 63.7,82.8 102.2,115.1 160.0,115.9" fill="none" stroke="#dd1e0b" stroke-width="1.0"/>
<polyline points="44.4,118.9 63.7,74.9 102.2,116.4 160.0,115.4" fill="none" stroke="#e0240f" stroke-width="1.0"/>
<polyline points="44.4,118.9 63.7,106.5 102.2,114.6 160.0,115.3" fill="none" stroke="#dc1c0a" stroke-width="1.0"/>
<polyline points="44.4,118.9 63.7,79.5 102.2,116.7 160.0,114.3" fill="none" stroke="#e02510" stroke-width="1.0"/>
<polyline points="44.4,118.9 63.7,83.4 102.2,116.0 160.0,114.7" fill="none" stroke="#de200d" stroke-width="1.0"/>
<polyline points="44.4,118.9 63.7,94.0 102.2,114.9 160.0,117.4" fill="none" stroke="#df230e" stroke-width="1.0"/>
<polyline points="44.4,118.9 63.7,79.3 102.2,115.2 160.0,114.9" fill="none" stroke="#e33114" stroke-width="1.0"/>
<polyline points="44.4,118.9 63.7,65.7 102.2,117.5 160.0,117.7" fill="none" stroke="#e22912" stroke-width="1.0"/>
<polyline points="44.4,118.9 63.7,69.5 102.2,113.4 160.0,114.2" fill="none" stroke="#de200d" stroke-width="1.0"/>
<polyline points="44.4,118.9 63.7,97.2 102.2,117.6 160.0,115.4" fill="none" stroke="#df230e" stroke-width="1.0"/>
<polyline points="44.4,118.9 63.7,88.6 102.2,117.0 160.0,116.3" fill="none" stroke="#dc1c0a" stroke-width="1.0"/>
<polyline points="44.4,118.9 63.7,80.8 102.2,114.2 160.0,116.3" fill="none" stroke="#de200c" stroke-width="1.0"/>
<polyline points="44.4,118.9 63.7,84.6 102.2,113.9 160.0,113.4" fill="none" stroke="#e22b12" stroke-width="1.0"/>
<polyline points="44.4,118.9 63.7,102.3 102.2,115.0 160.0,115.2" fill="none" stroke="#dc1d0a" stroke-width="1.0"/>
<polyline points="44.4,118.9 63.7,101.1 102.2,117.4 160.0,114.8" fill="none" stroke="#dd1f0c" stroke-width="1.0"/>
<polyline points="44.4,118.9 63.7,78.3 102.2,115.3 160.0,116.1" fill="none" stroke="#dc1d0b" stroke-width="1.0"/>
<polyline points="44.4,118.9 63.7,86.6 102.2,113.8 160.0,114.7" fill="none" stroke="#e23013" stroke-width="1.0"/>
<polyline points="44.4,118.9 63.7,84.3 102.2,115.9 160.0,114.7" fill="none" stroke="#dc1c0a" stroke-width="1.0"/>
<polyline points="44.4,118.9 63.7,78.2 102.2,115.2 160.0,115.0" fill="none" stroke="#df220e" stroke-width="1.0"/>
<polyline points="44.4,118.9 63.7,67.3 102.2,116.7 160.0,116.2" fill="none" stroke="#dc1c0a" stroke-width="1.0"/>
<polyline points="44.4,118.9 63.7,81.6 102.2,115.2 160.0,115.4" fill="none" stroke="#e22812" stroke-width="1.0"/>
<polyline points="44.4,118.9 63.7,100.0 102.2,114.5 160.0,115.9" fill="none" stroke="#dd1e0c" stroke-width="1.0"/>
<polyline points="44.4,118.9 63.7,71.0 102.2,117.3 160.0,115.7" fill="none" stroke="#e22f13" stroke-width="1.0"/>
<polyline points="44.4,118.9 63.7,78.7 102.2,116.0 160.0,116.1" fill="none" stroke="#dc1d0b" stroke-width="1.0"/>
<polyline points="44.4,118.9 63.7,87.5 102.2,115.4 160.0,115.4" fill="none" stroke="#e12510" stroke-width="1.0"/>
<polyline points="44.4,118.9 63.7,83.0 102.2,116.5 160.0,115.1" fill="none" stroke="#e22912" stroke-width="1.0"/>
<polyline points="44.4,118.9 63.7,103.4 102.2,116.2 160.0,115.8" fill="none" stroke="#e22912" stroke-width="1.0"/>
<polyline points="44.4,118.9 63.7,70.7 102.2,116.0 160.0,116.4" fill="none" stroke="#df230e" stroke-width="1.0"/>
<polyline points="44.4,118.9 63.7,97.8 102.2,115.3 160.0,116.1" fill="none" stroke="#e22e13" stroke-width="1.0"/>
<polyline points="44.4,118.9 63.7,68.5 102.2,116.5 160.0,115.1" fill="none" stroke="#e12611" stroke-width="1.0"/>
<polyline points="44.4,118.9 63.7,92.5 102.2,116.5 160.0,116.0" fill="none" stroke="#df210d" stroke-width="1.0"/>
<polyline points="44.4,118.9 63.7,98.2 102.2,116.3 160.0,114.9" fill="none" stroke="#df210d" stroke-width="1.0"/>
<polyline points="44.4,118.9 63.7,87.8 102.2,116.4 160.0,115.3" fill="none" stroke="#dd1f0c" stroke-width="1.0"/>
<polyline points="44.4,118.9 63.7,77.4 102.2,114.3 160.0,116.1" fill="none" stroke="#e22d13" stroke-width="1.0"/>
<polyline points="44.4,118.9 63.7,85.9 102.2,114.9 160.0,116.3" fill="none" stroke="#e12711" stroke-width="1.0"/>
<polyline points="44.4,118.9 63.7,98.1 102.2,114.8 160.0,117.4" fill="none" stroke="#e22d13" stroke-width="1.0"/>
<polyline points="44.4,118.9 63.7,81.5 102.2,115.1 160.0,114.3" fill="none" stroke="#dd1f0c" stroke-width="1.0"/>
<polyline points="44.4,118.9 63.7,95.5 102.2,115.1 160.0,116.4" fill="none" stroke="#e0230f" stroke-width="1.0"/>
<polyline points="44.4,118.9 63.7,71.6 102.2,114.7 160.0,115.8" fill="none" stroke="#e22f13" stroke-width="1.0"/>
<polyline points="44.4,118.9 63.7,86.9 102.2,117.0 160.0,116.5" fill="none" stroke="#e23013" stroke-width="1.0"/>
<polyline points="44.4,118.9 63.7,137.1 102.2,130.8 160.0,129.5" fill="none" stroke="#3e6bb5" stroke-width="1.0"/>
<polyline points="44.4,118.9 63.7,138.7 102.2,132.9 160.0,131.2" fill="none" stroke="#416eba" stroke-width="1.0"/>
<polyline points="44.4,118.9 63.7,135.2 102.2,128.7 160.0,127.3" fill="none" stroke="#3d68b2" stroke-width="1.0"/>
<polyline points="44.4,118.9 63.7,137.7 102.2,131.4 160.0,129.3" fill="none" stroke="#406cb8" stroke-width="1.0"/>
<polyline points="44.4,118.9 63.7,145.0 102.2,145.6 160.0,141.7" fill="none" stroke="#6a9ae0" stroke-width="1.0"/>
<polyline points="44.4,118.9 63.7,142.8 102.2,139.7 160.0,135.2" fill="none" stroke="#7aa4e4" stroke-width="1.0"/>
<polyline points="44.4,118.9 63.7,141.2 102.2,135.8 160.0,131.5" fill="none" stroke="#5a88d4" stroke-width="1.0"/>
<polyline points="44.4,118.9 63.7,126.5 102.2,114.8 160.0,112.5" fill="none" stroke="#7a68b8" stroke-width="1.0"/>
<polyline points="44.4,118.9 63.7,128.0 102.2,117.1 160.0,117.9" fill="none" stroke="#5a88d4" stroke-width="1.0"/>
<polyline points="44.4,118.9 63.7,128.5 102.2,124.1 160.0,127.2" fill="none" stroke="#2b4e90" stroke-width="1.0"/>
<polyline points="44.4,118.9 63.7,123.6 102.2,119.0 160.0,122.2" fill="none" stroke="#3f6cb7" stroke-width="1.0"/>
<polyline points="44.4,118.9 63.7,123.9 102.2,118.5 160.0,122.1" fill="none" stroke="#3e6ab5" stroke-width="1.0"/>
<polyline points="44.4,118.9 63.7,124.9 102.2,123.2 160.0,125.2" fill="none" stroke="#2d5093" stroke-width="1.0"/>
<polyline points="44.4,118.9 63.7,126.2 102.2,123.0 160.0,126.3" fill="none" stroke="#305499" stroke-width="1.0"/>
<polyline points="44.4,118.9 63.7,124.6 102.2,121.1 160.0,123.1" fill="none" stroke="#32589d" stroke-width="1.0"/>
<polyline points="44.4,118.9 63.7,125.6 102.2,123.6 160.0,125.6" fill="none" stroke="#264787" stroke-width="1.0"/>
<polyline points="44.4,118.9 63.7,125.6 102.2,120.5 160.0,124.7" fill="none" stroke="#375fa7" stroke-width="1.0"/>
<polyline points="44.4,118.9 63.7,127.1 102.2,123.5 160.0,127.5" fill="none" stroke="#2b4e90" stroke-width="1.0"/>
<polyline points="44.4,118.9 63.7,124.6 102.2,122.8 160.0,123.9" fill="none" stroke="#2e5296" stroke-width="1.0"/>
<polyline points="44.4,118.9 63.7,124.4 102.2,120.3 160.0,120.9" fill="none" stroke="#33599f" stroke-width="1.0"/>
<polyline points="44.4,118.9 63.7,124.7 102.2,122.1 160.0,122.8" fill="none" stroke="#32599e" stroke-width="1.0"/>
<polyline points="44.4,118.9 63.7,127.5 102.2,125.1 160.0,128.4" fill="none" stroke="#244382" stroke-width="1.0"/>
<polyline points="44.4,118.9 63.7,126.3 102.2,121.4 160.0,124.6" fill="none" stroke="#3b66b0" stroke-width="1.0"/>
<polyline points="44.4,118.9 63.7,122.8 102.2,119.8 160.0,120.4" fill="none" stroke="#32589d" stroke-width="1.0"/>
<polyline points="44.4,118.9 63.7,125.9 102.2,123.3 160.0,124.4" fill="none" stroke="#32589e" stroke-width="1.0"/>
<polyline points="44.4,118.9 63.7,127.6 102.2,124.2 160.0,128.0" fill="none" stroke="#2b4d8f" stroke-width="1.0"/>
<polyline points="44.4,118.9 63.7,124.5 102.2,122.2 160.0,124.6" fill="none" stroke="#335a9f" stroke-width="1.0"/>
<polyline points="44.4,118.9 63.7,126.4 102.2,123.0 160.0,124.4" fill="none" stroke="#284889" stroke-width="1.0"/>
<polyline points="44.4,118.9 63.7,126.9 102.2,123.8 160.0,126.2" fill="none" stroke="#2a4c8e" stroke-width="1.0"/>
<polyline points="44.4,118.9 63.7,125.3 102.2,123.9 160.0,124.3" fill="none" stroke="#31579c" stroke-width="1.0"/>
<polyline points="44.4,118.9 63.7,128.2 102.2,124.8 160.0,125.7" fill="none" stroke="#294b8d" stroke-width="1.0"/>
<polyline points="44.4,118.9 63.7,125.8 102.2,122.2 160.0,126.8" fill="none" stroke="#375fa6" stroke-width="1.0"/>
<polyline points="44.4,118.9 63.7,123.7 102.2,119.3 160.0,118.9" fill="none" stroke="#4270bd" stroke-width="1.0"/>
<polyline points="44.4,118.9 63.7,127.5 102.2,124.6 160.0,125.1" fill="none" stroke="#254483" stroke-width="1.0"/>
<polyline points="44.4,118.9 63.7,129.1 102.2,125.3 160.0,129.4" fill="none" stroke="#2a4c8d" stroke-width="1.0"/>
<polyline points="44.4,118.9 63.7,128.2 102.2,122.9 160.0,128.1" fill="none" stroke="#33599f" stroke-width="1.0"/>
<polyline points="44.4,118.9 63.7,124.3 102.2,120.8 160.0,122.5" fill="none" stroke="#305599" stroke-width="1.0"/>
<polyline points="44.4,118.9 63.7,125.0 102.2,119.9 160.0,120.8" fill="none" stroke="#3b66b0" stroke-width="1.0"/>
<polyline points="44.4,118.9 63.7,125.9 102.2,122.4 160.0,125.4" fill="none" stroke="#3a63ac" stroke-width="1.0"/>
<polyline points="44.4,118.9 63.7,124.2 102.2,120.2 160.0,124.6" fill="none" stroke="#345ba2" stroke-width="1.0"/>
<polyline points="44.4,118.9 63.7,128.5 102.2,124.8 160.0,127.2" fill="none" stroke="#2b4d8f" stroke-width="1.0"/>
<polyline points="44.4,118.9 63.7,125.1 102.2,122.0 160.0,125.9" fill="none" stroke="#31569b" stroke-width="1.0"/>
<polyline points="44.4,118.9 63.7,124.8 102.2,120.2 160.0,122.4" fill="none" stroke="#406db8" stroke-width="1.0"/>
<polyline points="218.5,118.0 237.4,113.3 275.4,106.3 332.2,94.3" fill="none" stroke="#f0c060" stroke-width="1.3"/>
<polyline points="218.5,118.0 237.4,112.5 275.4,104.7 332.2,96.5" fill="none" stroke="#f0b050" stroke-width="1.3"/>
<polyline points="218.5,118.0 237.4,114.0 275.4,107.8 332.2,99.4" fill="none" stroke="#f0a040" stroke-width="1.3"/>
<polyline points="218.5,118.0 237.4,111.7 275.4,103.2 332.2,101.3" fill="none" stroke="#f09838" stroke-width="1.3"/>
<polyline points="218.5,118.0 237.4,112.2 275.4,101.6 332.2,103.2" fill="none" stroke="#ee8a30" stroke-width="1.3"/>
<polyline points="218.5,118.0 237.4,112.7 275.4,106.9 332.2,109.0" fill="none" stroke="#db361b" stroke-width="1.3"/>
<polyline points="218.5,118.0 237.4,110.2 275.4,102.8 332.2,106.2" fill="none" stroke="#d8341b" stroke-width="1.3"/>
<polyline points="218.5,118.0 237.4,108.5 275.4,102.4 332.2,104.3" fill="none" stroke="#d6321a" stroke-width="1.3"/>
<polyline points="218.5,118.0 237.4,109.4 275.4,105.2 332.2,104.6" fill="none" stroke="#d7331a" stroke-width="1.3"/>
<polyline points="218.5,118.0 237.4,111.4 275.4,108.3 332.2,107.1" fill="none" stroke="#d5321a" stroke-width="1.3"/>
<polyline points="218.5,118.0 237.4,112.6 275.4,107.0 332.2,108.4" fill="none" stroke="#dd381c" stroke-width="1.3"/>
<polyline points="218.5,118.0 237.4,113.7 275.4,110.7 332.2,108.8" fill="none" stroke="#cb2a19" stroke-width="1.3"/>
<polyline points="218.5,118.0 237.4,113.0 275.4,109.4 332.2,108.2" fill="none" stroke="#dc371b" stroke-width="1.3"/>
<polyline points="218.5,118.0 237.4,110.7 275.4,107.6 332.2,107.0" fill="none" stroke="#c82818" stroke-width="1.3"/>
<polyline points="218.5,118.0 237.4,113.2 275.4,109.4 332.2,109.3" fill="none" stroke="#de391c" stroke-width="1.3"/>
<polyline points="218.5,118.0 237.4,110.7 275.4,104.3 332.2,106.1" fill="none" stroke="#c92918" stroke-width="1.3"/>
<polyline points="218.5,118.0 237.4,111.1 275.4,104.5 332.2,107.1" fill="none" stroke="#d12f19" stroke-width="1.3"/>
<polyline points="218.5,118.0 237.4,108.0 275.4,101.2 332.2,103.5" fill="none" stroke="#df391c" stroke-width="1.3"/>
<polyline points="218.5,118.0 237.4,111.4 275.4,107.2 332.2,106.8" fill="none" stroke="#d12f19" stroke-width="1.3"/>
<polyline points="218.5,118.0 237.4,108.7 275.4,99.2 332.2,104.2" fill="none" stroke="#dc371b" stroke-width="1.3"/>
<polyline points="218.5,118.0 237.4,112.2 275.4,106.7 332.2,106.6" fill="none" stroke="#d8341b" stroke-width="1.3"/>
<polyline points="218.5,118.0 237.4,112.3 275.4,108.5 332.2,108.4" fill="none" stroke="#dc371b" stroke-width="1.3"/>
<polyline points="218.5,118.0 237.4,112.7 275.4,107.5 332.2,107.8" fill="none" stroke="#d9341b" stroke-width="1.3"/>
<polyline points="218.5,118.0 237.4,111.5 275.4,106.5 332.2,108.4" fill="none" stroke="#dc371b" stroke-width="1.3"/>
<polyline points="218.5,118.0 237.4,110.2 275.4,103.1 332.2,105.6" fill="none" stroke="#c92918" stroke-width="1.3"/>
<polyline points="218.5,118.0 237.4,113.0 275.4,111.5 332.2,108.6" fill="none" stroke="#d02e19" stroke-width="1.3"/>
<polyline points="218.5,118.0 237.4,109.5 275.4,102.6 332.2,105.2" fill="none" stroke="#db371b" stroke-width="1.3"/>
<polyline points="218.5,118.0 237.4,111.0 275.4,104.2 332.2,107.2" fill="none" stroke="#dc371b" stroke-width="1.3"/>
<polyline points="218.5,118.0 237.4,108.1 275.4,100.6 332.2,103.2" fill="none" stroke="#cc2b19" stroke-width="1.3"/>
<polyline points="218.5,118.0 237.4,107.5 275.4,93.8 332.2,112.3" fill="none" stroke="#c42418" stroke-width="1.3"/>
<polyline points="218.5,118.0 237.4,108.1 275.4,94.9 332.2,110.1" fill="none" stroke="#d02818" stroke-width="1.3"/>
<polyline points="218.5,118.0 237.4,109.1 275.4,96.2 332.2,107.8" fill="none" stroke="#d82a18" stroke-width="1.3"/>
<polyline points="218.5,118.0 237.4,115.6 275.4,110.9 332.2,114.5" fill="none" stroke="#f0b070" stroke-width="1.3"/>
<polyline points="218.5,118.0 237.4,122.5 275.4,126.7 332.2,116.1" fill="none" stroke="#5485d1" stroke-width="1.3"/>
<polyline points="218.5,118.0 237.4,123.7 275.4,129.0 332.2,120.6" fill="none" stroke="#4b7dcd" stroke-width="1.3"/>
<polyline points="218.5,118.0 237.4,122.3 275.4,128.1 332.2,124.3" fill="none" stroke="#5182cf" stroke-width="1.3"/>
<polyline points="218.5,118.0 237.4,122.9 275.4,127.6 332.2,126.5" fill="none" stroke="#3e6ab5" stroke-width="1.3"/>
<polyline points="218.5,118.0 237.4,121.4 275.4,127.1 332.2,128.0" fill="none" stroke="#4879c9" stroke-width="1.3"/>
<polyline points="218.5,118.0 237.4,120.7 275.4,126.6 332.2,131.0" fill="none" stroke="#4270bc" stroke-width="1.3"/>
<polyline points="218.5,118.0 237.4,123.8 275.4,128.9 332.2,133.9" fill="none" stroke="#4c7ecd" stroke-width="1.3"/>
<polyline points="218.5,118.0 237.4,121.6 275.4,126.8 332.2,136.7" fill="none" stroke="#4a7ccc" stroke-width="1.3"/>
<polyline points="218.5,118.0 237.4,122.2 275.4,127.2 332.2,125.7" fill="none" stroke="#4878c7" stroke-width="1.3"/>
<polyline points="218.5,118.0 237.4,121.2 275.4,128.3 332.2,129.6" fill="none" stroke="#406eb9" stroke-width="1.3"/>
<polyline points="393.0,118.9 412.1,109.4 450.1,110.6 507.3,103.8" fill="none" stroke="#f08a30" stroke-width="1.3"/>
<polyline points="393.0,118.9 412.1,112.2 450.1,112.8 507.3,101.4" fill="none" stroke="#f09838" stroke-width="1.3"/>
<polyline points="393.0,118.9 412.1,115.0 450.1,116.8 507.3,106.3" fill="none" stroke="#f0a040" stroke-width="1.3"/>
<polyline points="393.0,118.9 412.1,110.9 450.1,111.7 507.3,106.3" fill="none" stroke="#ee7a2a" stroke-width="1.3"/>
<polyline points="393.0,118.9 412.1,112.6 450.1,111.7 507.3,108.1" fill="none" stroke="#df220e" stroke-width="1.3"/>
<polyline points="393.0,118.9 412.1,114.9 450.1,114.8 507.3,110.7" fill="none" stroke="#dd1e0b" stroke-width="1.3"/>
<polyline points="393.0,118.9 412.1,116.2 450.1,115.5 507.3,109.9" fill="none" stroke="#e23013" stroke-width="1.3"/>
<polyline points="393.0,118.9 412.1,114.0 450.1,114.4 507.3,108.9" fill="none" stroke="#dd1f0c" stroke-width="1.3"/>
<polyline points="393.0,118.9 412.1,115.7 450.1,114.2 507.3,109.3" fill="none" stroke="#e22b12" stroke-width="1.3"/>
<polyline points="393.0,118.9 412.1,115.6 450.1,114.8 507.3,109.4" fill="none" stroke="#e22b12" stroke-width="1.3"/>
<polyline points="393.0,118.9 412.1,113.7 450.1,112.6 507.3,109.1" fill="none" stroke="#e0240f" stroke-width="1.3"/>
<polyline points="393.0,118.9 412.1,112.6 450.1,113.9 507.3,107.4" fill="none" stroke="#e0230f" stroke-width="1.3"/>
<polyline points="393.0,118.9 412.1,115.9 450.1,115.6 507.3,110.5" fill="none" stroke="#df220e" stroke-width="1.3"/>
<polyline points="393.0,118.9 412.1,113.5 450.1,112.8 507.3,108.3" fill="none" stroke="#e22c13" stroke-width="1.3"/>
<polyline points="393.0,118.9 412.1,115.4 450.1,115.4 507.3,109.9" fill="none" stroke="#de210d" stroke-width="1.3"/>
<polyline points="393.0,118.9 412.1,112.6 450.1,112.0 507.3,108.0" fill="none" stroke="#e22812" stroke-width="1.3"/>
<polyline points="393.0,118.9 412.1,115.5 450.1,114.8 507.3,109.7" fill="none" stroke="#df220e" stroke-width="1.3"/>
<polyline points="393.0,118.9 412.1,114.9 450.1,115.8 507.3,109.2" fill="none" stroke="#e33214" stroke-width="1.3"/>
<polyline points="393.0,118.9 412.1,115.7 450.1,113.4 507.3,109.3" fill="none" stroke="#e22712" stroke-width="1.3"/>
<polyline points="393.0,118.9 412.1,113.8 450.1,112.6 507.3,107.5" fill="none" stroke="#e0240f" stroke-width="1.3"/>
<polyline points="393.0,118.9 412.1,115.4 450.1,114.8 507.3,110.9" fill="none" stroke="#df220e" stroke-width="1.3"/>
<polyline points="393.0,118.9 412.1,112.5 450.1,112.8 507.3,107.6" fill="none" stroke="#e02510" stroke-width="1.3"/>
<polyline points="393.0,118.9 412.1,114.7 450.1,113.3 507.3,108.7" fill="none" stroke="#df220e" stroke-width="1.3"/>
<polyline points="393.0,118.9 412.1,116.2 450.1,115.6 507.3,109.4" fill="none" stroke="#dd1d0b" stroke-width="1.3"/>
<polyline points="393.0,118.9 412.1,112.8 450.1,113.0 507.3,108.6" fill="none" stroke="#e12611" stroke-width="1.3"/>
<polyline points="393.0,118.9 412.1,114.2 450.1,113.5 507.3,109.7" fill="none" stroke="#e0240f" stroke-width="1.3"/>
<polyline points="393.0,118.9 412.1,115.6 450.1,115.4 507.3,108.5" fill="none" stroke="#e22711" stroke-width="1.3"/>
<polyline points="393.0,118.9 412.1,115.1 450.1,114.1 507.3,109.9" fill="none" stroke="#e12611" stroke-width="1.3"/>
<polyline points="393.0,118.9 412.1,114.8 450.1,113.0 507.3,108.8" fill="none" stroke="#dc1c0a" stroke-width="1.3"/>
<polyline points="393.0,118.9 412.1,114.7 450.1,113.9 507.3,109.1" fill="none" stroke="#de210d" stroke-width="1.3"/>
<polyline points="393.0,118.9 412.1,114.0 450.1,112.5 507.3,95.4" fill="none" stroke="#c83a2a" stroke-width="1.3"/>
<polyline points="393.0,118.9 412.1,118.7 450.1,117.9 507.3,107.8" fill="none" stroke="#f0a050" stroke-width="1.3"/>
<polyline points="393.0,118.9 412.1,121.5 450.1,123.6 507.3,125.8" fill="none" stroke="#254484" stroke-width="1.3"/>
<polyline points="393.0,118.9 412.1,121.0 450.1,121.9 507.3,124.8" fill="none" stroke="#234280" stroke-width="1.3"/>
<polyline points="393.0,118.9 412.1,121.4 450.1,122.2 507.3,124.9" fill="none" stroke="#294b8c" stroke-width="1.3"/>
<polyline points="393.0,118.9 412.1,120.8 450.1,122.3 507.3,124.8" fill="none" stroke="#2a4b8d" stroke-width="1.3"/>
<polyline points="393.0,118.9 412.1,121.2 450.1,123.8 507.3,125.8" fill="none" stroke="#274788" stroke-width="1.3"/>
<polyline points="393.0,118.9 412.1,121.7 450.1,124.2 507.3,125.9" fill="none" stroke="#234280" stroke-width="1.3"/>
<polyline points="393.0,118.9 412.1,121.6 450.1,122.8 507.3,125.7" fill="none" stroke="#22417f" stroke-width="1.3"/>
<polyline points="393.0,118.9 412.1,120.8 450.1,122.9 507.3,124.8" fill="none" stroke="#294b8c" stroke-width="1.3"/>
<polyline points="393.0,118.9 412.1,120.9 450.1,121.8 507.3,124.5" fill="none" stroke="#264686" stroke-width="1.3"/>
<polyline points="393.0,118.9 412.1,120.5 450.1,120.4 507.3,124.3" fill="none" stroke="#254483" stroke-width="1.3"/>
<polyline points="393.0,118.9 412.1,121.0 450.1,123.3 507.3,125.4" fill="none" stroke="#274787" stroke-width="1.3"/>
<polyline points="393.0,118.9 412.1,121.0 450.1,123.4 507.3,128.5" fill="none" stroke="#3a68bc" stroke-width="1.3"/>
<polyline points="393.0,118.9 412.1,121.8 450.1,122.6 507.3,130.1" fill="none" stroke="#3a68bc" stroke-width="1.3"/>
<polyline points="393.0,118.9 412.1,122.1 450.1,124.9 507.3,134.2" fill="none" stroke="#2a4888" stroke-width="1.3"/>
<polyline points="393.0,118.9 412.1,120.6 450.1,121.8 507.3,127.7" fill="none" stroke="#30589e" stroke-width="1.3"/>
<polyline points="393.0,118.9 412.1,120.3 450.1,120.3 507.3,124.9" fill="none" stroke="#30589e" stroke-width="1.3"/>
<polyline points="126.4,318.9 145.7,287.1 184.2,286.5 242.1,286.9" fill="none" stroke="#eb8228" stroke-width="1.1"/>
<polyline points="126.4,318.9 145.7,290.3 184.2,289.7 242.1,290.4" fill="none" stroke="#e96c22" stroke-width="1.1"/>
<polyline points="126.4,318.9 145.7,293.8 184.2,293.9 242.1,293.3" fill="none" stroke="#e44717" stroke-width="1.1"/>
<polyline points="126.4,318.9 145.7,290.2 184.2,288.6 242.1,288.7" fill="none" stroke="#ea7424" stroke-width="1.1"/>
<polyline points="126.4,318.9 145.7,287.3 184.2,285.4 242.1,285.6" fill="none" stroke="#eb8629" stroke-width="1.1"/>
<polyline points="126.4,318.9 145.7,287.5 184.2,286.5 242.1,286.4" fill="none" stroke="#eb8128" stroke-width="1.1"/>
<polyline points="126.4,318.9 145.7,294.8 184.2,294.3 242.1,293.9" fill="none" stroke="#e33214" stroke-width="1.1"/>
<polyline points="126.4,318.9 145.7,292.2 184.2,291.2 242.1,291.4" fill="none" stroke="#e5531a" stroke-width="1.1"/>
<polyline points="126.4,318.9 145.7,289.9 184.2,289.7 242.1,289.9" fill="none" stroke="#ea7324" stroke-width="1.1"/>
<polyline points="126.4,318.9 145.7,289.7 184.2,288.8 242.1,288.9" fill="none" stroke="#e96d22" stroke-width="1.1"/>
<polyline points="126.4,318.9 145.7,294.2 184.2,293.1 242.1,293.0" fill="none" stroke="#e34216" stroke-width="1.1"/>
<polyline points="126.4,318.9 145.7,288.2 184.2,288.0 242.1,287.0" fill="none" stroke="#ea7524" stroke-width="1.1"/>
<polyline points="126.4,318.9 145.7,291.5 184.2,290.5 242.1,290.4" fill="none" stroke="#e65a1c" stroke-width="1.1"/>
<polyline points="126.4,318.9 145.7,290.4 184.2,289.6 242.1,289.9" fill="none" stroke="#e86921" stroke-width="1.1"/>
<polyline points="126.4,318.9 145.7,290.2 184.2,288.6 242.1,289.1" fill="none" stroke="#ea7624" stroke-width="1.1"/>
<polyline points="126.4,318.9 145.7,292.8 184.2,292.3 242.1,291.7" fill="none" stroke="#e33d15" stroke-width="1.1"/>
<polyline points="126.4,318.9 145.7,288.7 184.2,287.6 242.1,287.9" fill="none" stroke="#ea7625" stroke-width="1.1"/>
<polyline points="126.4,318.9 145.7,293.0 184.2,293.4 242.1,292.4" fill="none" stroke="#e33f16" stroke-width="1.1"/>
<polyline points="126.4,318.9 145.7,288.5 184.2,287.3 242.1,287.5" fill="none" stroke="#ea7624" stroke-width="1.1"/>
<polyline points="126.4,318.9 145.7,286.9 184.2,285.4 242.1,286.8" fill="none" stroke="#ea7825" stroke-width="1.1"/>
<polyline points="126.4,318.9 145.7,289.8 184.2,289.8 242.1,289.1" fill="none" stroke="#e86620" stroke-width="1.1"/>
<polyline points="126.4,318.9 145.7,295.1 184.2,294.0 242.1,293.8" fill="none" stroke="#e33214" stroke-width="1.1"/>
<polyline points="126.4,318.9 145.7,292.8 184.2,291.5 242.1,292.3" fill="none" stroke="#e44a18" stroke-width="1.1"/>
<polyline points="126.4,318.9 145.7,294.4 184.2,293.7 242.1,293.8" fill="none" stroke="#e34116" stroke-width="1.1"/>
<polyline points="126.4,318.9 145.7,287.2 184.2,286.7 242.1,286.7" fill="none" stroke="#ea7825" stroke-width="1.1"/>
<polyline points="126.4,318.9 145.7,294.8 184.2,293.8 242.1,292.8" fill="none" stroke="#e23013" stroke-width="1.1"/>
<polyline points="126.4,318.9 145.7,292.6 184.2,292.5 242.1,292.6" fill="none" stroke="#e44d18" stroke-width="1.1"/>
<polyline points="126.4,318.9 145.7,290.3 184.2,289.9 242.1,289.8" fill="none" stroke="#e65b1d" stroke-width="1.1"/>
<polyline points="126.4,318.9 145.7,289.1 184.2,287.4 242.1,288.4" fill="none" stroke="#e86921" stroke-width="1.1"/>
<polyline points="126.4,318.9 145.7,294.9 184.2,293.8 242.1,293.8" fill="none" stroke="#e33c15" stroke-width="1.1"/>
<polyline points="126.4,318.9 145.7,289.7 184.2,287.6 242.1,288.3" fill="none" stroke="#e86921" stroke-width="1.1"/>
<polyline points="126.4,318.9 145.7,290.1 184.2,289.3 242.1,289.6" fill="none" stroke="#e96e22" stroke-width="1.1"/>
<polyline points="126.4,318.9 145.7,288.1 184.2,287.1 242.1,286.5" fill="none" stroke="#ea7123" stroke-width="1.1"/>
<polyline points="126.4,318.9 145.7,294.0 184.2,292.6 242.1,293.7" fill="none" stroke="#e33514" stroke-width="1.1"/>
<polyline points="126.4,318.9 145.7,288.1 184.2,287.2 242.1,287.4" fill="none" stroke="#ea7d26" stroke-width="1.1"/>
<polyline points="126.4,318.9 145.7,291.8 184.2,290.0 242.1,290.8" fill="none" stroke="#e5541a" stroke-width="1.1"/>
<polyline points="126.4,318.9 145.7,288.8 184.2,288.1 242.1,288.1" fill="none" stroke="#ea7a26" stroke-width="1.1"/>
<polyline points="126.4,318.9 145.7,290.0 184.2,289.5 242.1,289.3" fill="none" stroke="#e55019" stroke-width="1.1"/>
<polyline points="126.4,318.9 145.7,289.1 184.2,287.9 242.1,287.4" fill="none" stroke="#e8651f" stroke-width="1.1"/>
<polyline points="126.4,318.9 145.7,294.7 184.2,292.5 242.1,293.4" fill="none" stroke="#e5511a" stroke-width="1.1"/>
<polyline points="126.4,318.9 145.7,259.4 184.2,285.5 242.1,286.3" fill="none" stroke="#eba534" stroke-width="1.1"/>
<polyline points="126.4,318.9 145.7,268.9 184.2,284.7 242.1,285.5" fill="none" stroke="#eab23d" stroke-width="1.1"/>
<polyline points="126.4,318.9 145.7,273.2 184.2,286.3 242.1,287.1" fill="none" stroke="#eba534" stroke-width="1.1"/>
<polyline points="126.4,318.9 145.7,275.7 184.2,285.5 242.1,286.3" fill="none" stroke="#eba634" stroke-width="1.1"/>
<polyline points="126.4,318.9 145.7,279.5 184.2,280.1 242.1,284.7" fill="none" stroke="#ebab38" stroke-width="1.1"/>
<polyline points="126.4,318.9 145.7,282.6 184.2,286.3 242.1,287.9" fill="none" stroke="#eaac39" stroke-width="1.1"/>
<polyline points="126.4,318.9 145.7,282.1 184.2,268.9 242.1,283.8" fill="none" stroke="#eaad3a" stroke-width="1.1"/>
<polyline points="126.4,318.9 145.7,286.3 184.2,283.2 242.1,285.5" fill="none" stroke="#eba634" stroke-width="1.1"/>
<polyline points="126.4,318.9 145.7,279.0 184.2,288.7 242.1,288.0" fill="none" stroke="#eb912c" stroke-width="1.1"/>
<polyline points="126.4,318.9 145.7,281.2 184.2,286.5 242.1,287.1" fill="none" stroke="#eb922c" stroke-width="1.1"/>
<polyline points="126.4,318.9 145.7,282.4 184.2,287.6 242.1,288.5" fill="none" stroke="#eb8d2b" stroke-width="1.1"/>
<polyline points="126.4,318.9 145.7,276.3 184.2,287.6 242.1,286.4" fill="none" stroke="#eb892a" stroke-width="1.1"/>
<polyline points="126.4,318.9 145.7,281.5 184.2,287.4 242.1,288.3" fill="none" stroke="#eb922c" stroke-width="1.1"/>
<polyline points="126.4,318.9 145.7,278.9 184.2,286.9 242.1,286.4" fill="none" stroke="#ebaa37" stroke-width="1.1"/>
<polyline points="126.4,318.9 145.7,281.3 184.2,288.8 242.1,286.7" fill="none" stroke="#eb922c" stroke-width="1.1"/>
<polyline points="126.4,318.9 145.7,283.5 184.2,287.2 242.1,288.6" fill="none" stroke="#eb892a" stroke-width="1.1"/>
<polyline points="126.4,318.9 145.7,276.0 184.2,288.1 242.1,286.8" fill="none" stroke="#eb922c" stroke-width="1.1"/>
<polyline points="126.4,318.9 145.7,276.7 184.2,287.6 242.1,287.8" fill="none" stroke="#eba634" stroke-width="1.1"/>
<polyline points="126.4,318.9 145.7,301.0 184.2,300.4 242.1,300.6" fill="none" stroke="#df210e" stroke-width="1.1"/>
<polyline points="126.4,318.9 145.7,291.6 184.2,293.0 242.1,293.1" fill="none" stroke="#e22c13" stroke-width="1.1"/>
<polyline points="126.4,318.9 145.7,301.4 184.2,303.0 242.1,303.3" fill="none" stroke="#de200d" stroke-width="1.1"/>
<polyline points="126.4,318.9 145.7,292.7 184.2,294.5 242.1,291.8" fill="none" stroke="#de1f0c" stroke-width="1.1"/>
<polyline points="126.4,318.9 145.7,291.5 184.2,293.6 242.1,294.8" fill="none" stroke="#de210d" stroke-width="1.1"/>
<polyline points="126.4,318.9 145.7,295.5 184.2,296.1 242.1,293.3" fill="none" stroke="#df210d" stroke-width="1.1"/>
<polyline points="126.4,318.9 145.7,293.6 184.2,294.0 242.1,292.9" fill="none" stroke="#df220e" stroke-width="1.1"/>
<polyline points="126.4,318.9 145.7,295.7 184.2,297.2 242.1,296.4" fill="none" stroke="#e12510" stroke-width="1.1"/>
<polyline points="126.4,318.9 145.7,296.7 184.2,296.1 242.1,296.3" fill="none" stroke="#dc1c0a" stroke-width="1.1"/>
<polyline points="126.4,318.9 145.7,301.4 184.2,299.1 242.1,302.4" fill="none" stroke="#e12510" stroke-width="1.1"/>
<polyline points="126.4,318.9 145.7,293.3 184.2,292.8 242.1,293.4" fill="none" stroke="#e0230f" stroke-width="1.1"/>
<polyline points="126.4,318.9 145.7,294.0 184.2,294.1 242.1,291.6" fill="none" stroke="#e33514" stroke-width="1.1"/>
<polyline points="126.4,318.9 145.7,302.2 184.2,299.7 242.1,301.2" fill="none" stroke="#de200d" stroke-width="1.1"/>
<polyline points="126.4,318.9 145.7,298.8 184.2,297.1 242.1,298.9" fill="none" stroke="#e12510" stroke-width="1.1"/>
<polyline points="126.4,318.9 145.7,305.9 184.2,304.9 242.1,306.8" fill="none" stroke="#e22812" stroke-width="1.1"/>
<polyline points="126.4,318.9 145.7,298.8 184.2,299.2 242.1,297.0" fill="none" stroke="#e02410" stroke-width="1.1"/>
<polyline points="126.4,318.9 145.7,295.9 184.2,294.0 242.1,295.1" fill="none" stroke="#e22812" stroke-width="1.1"/>
<polyline points="126.4,318.9 145.7,292.8 184.2,291.6 242.1,292.8" fill="none" stroke="#e22d13" stroke-width="1.1"/>
<polyline points="126.4,318.9 145.7,300.4 184.2,299.1 242.1,302.0" fill="none" stroke="#e33114" stroke-width="1.1"/>
<polyline points="126.4,318.9 145.7,302.3 184.2,303.8 242.1,306.1" fill="none" stroke="#e22f13" stroke-width="1.1"/>
<polyline points="126.4,318.9 145.7,301.6 184.2,302.4 242.1,301.0" fill="none" stroke="#df230e" stroke-width="1.1"/>
<polyline points="126.4,318.9 145.7,300.3 184.2,300.9 242.1,300.1" fill="none" stroke="#e12611" stroke-width="1.1"/>
<polyline points="126.4,318.9 145.7,294.4 184.2,293.9 242.1,296.1" fill="none" stroke="#e23013" stroke-width="1.1"/>
<polyline points="126.4,318.9 145.7,299.6 184.2,302.4 242.1,299.7" fill="none" stroke="#e0230f" stroke-width="1.1"/>
<polyline points="126.4,318.9 145.7,299.2 184.2,298.2 242.1,298.8" fill="none" stroke="#e33514" stroke-width="1.1"/>
<polyline points="126.4,318.9 145.7,294.3 184.2,294.9 242.1,292.7" fill="none" stroke="#e22c13" stroke-width="1.1"/>
<polyline points="126.4,318.9 145.7,306.9 184.2,306.8 242.1,306.0" fill="none" stroke="#dc1c0a" stroke-width="1.1"/>
<polyline points="126.4,318.9 145.7,298.9 184.2,298.1 242.1,299.7" fill="none" stroke="#dd1f0c" stroke-width="1.1"/>
<polyline points="126.4,318.9 145.7,294.6 184.2,293.2 242.1,294.1" fill="none" stroke="#df230f" stroke-width="1.1"/>
<polyline points="126.4,318.9 145.7,298.2 184.2,299.7 242.1,297.4" fill="none" stroke="#e33514" stroke-width="1.1"/>
<polyline points="126.4,318.9 145.7,298.6 184.2,298.8 242.1,298.4" fill="none" stroke="#e22912" stroke-width="1.1"/>
<polyline points="126.4,318.9 145.7,294.3 184.2,290.0 242.1,294.3" fill="none" stroke="#de210d" stroke-width="1.1"/>
<polyline points="126.4,318.9 145.7,301.1 184.2,299.0 242.1,302.3" fill="none" stroke="#e0230f" stroke-width="1.1"/>
<polyline points="126.4,318.9 145.7,297.2 184.2,294.0 242.1,298.2" fill="none" stroke="#e0240f" stroke-width="1.1"/>
<polyline points="126.4,318.9 145.7,295.1 184.2,292.9 242.1,294.3" fill="none" stroke="#df210d" stroke-width="1.1"/>
<polyline points="126.4,318.9 145.7,296.8 184.2,297.9 242.1,297.7" fill="none" stroke="#e22c13" stroke-width="1.1"/>
<polyline points="126.4,318.9 145.7,305.1 184.2,306.2 242.1,305.8" fill="none" stroke="#e0230f" stroke-width="1.1"/>
<polyline points="126.4,318.9 145.7,294.2 184.2,293.0 242.1,295.3" fill="none" stroke="#e12711" stroke-width="1.1"/>
<polyline points="126.4,318.9 145.7,297.7 184.2,297.7 242.1,295.9" fill="none" stroke="#e12611" stroke-width="1.1"/>
<polyline points="126.4,318.9 145.7,293.5 184.2,292.5 242.1,291.7" fill="none" stroke="#e22812" stroke-width="1.1"/>
<polyline points="126.4,318.9 145.7,301.2 184.2,298.5 242.1,300.5" fill="none" stroke="#e23013" stroke-width="1.1"/>
<polyline points="126.4,318.9 145.7,305.1 184.2,303.3 242.1,305.1" fill="none" stroke="#e0230f" stroke-width="1.1"/>
<polyline points="126.4,318.9 145.7,296.2 184.2,296.2 242.1,298.4" fill="none" stroke="#df210e" stroke-width="1.1"/>
<polyline points="126.4,318.9 145.7,301.3 184.2,298.7 242.1,300.2" fill="none" stroke="#df220e" stroke-width="1.1"/>
<polyline points="126.4,318.9 145.7,292.6 184.2,290.9 242.1,292.4" fill="none" stroke="#e33614" stroke-width="1.1"/>
<polyline points="126.4,318.9 145.7,306.5 184.2,308.6 242.1,305.6" fill="none" stroke="#e12610" stroke-width="1.1"/>
<polyline points="126.4,318.9 145.7,293.6 184.2,291.0 242.1,293.3" fill="none" stroke="#e0240f" stroke-width="1.1"/>
<polyline points="126.4,318.9 145.7,300.4 184.2,301.6 242.1,300.0" fill="none" stroke="#e0230f" stroke-width="1.1"/>
<polyline points="126.4,318.9 145.7,303.5 184.2,302.7 242.1,300.9" fill="none" stroke="#e22912" stroke-width="1.1"/>
<polyline points="126.4,318.9 145.7,299.0 184.2,300.3 242.1,302.2" fill="none" stroke="#df220e" stroke-width="1.1"/>
<polyline points="126.4,318.9 145.7,298.1 184.2,297.2 242.1,299.4" fill="none" stroke="#de200c" stroke-width="1.1"/>
<polyline points="126.4,318.9 145.7,299.1 184.2,301.2 242.1,299.0" fill="none" stroke="#e22d13" stroke-width="1.1"/>
<polyline points="126.4,318.9 145.7,292.4 184.2,293.3 242.1,295.5" fill="none" stroke="#e22b12" stroke-width="1.1"/>
<polyline points="126.4,318.9 145.7,293.0 184.2,294.0 242.1,294.4" fill="none" stroke="#e22712" stroke-width="1.1"/>
<polyline points="126.4,318.9 145.7,299.1 184.2,298.2 242.1,300.1" fill="none" stroke="#e02510" stroke-width="1.1"/>
<polyline points="126.4,318.9 145.7,291.1 184.2,291.4 242.1,293.0" fill="none" stroke="#e02510" stroke-width="1.1"/>
<polyline points="126.4,318.9 145.7,298.7 184.2,296.8 242.1,300.0" fill="none" stroke="#e33614" stroke-width="1.1"/>
<polyline points="126.4,318.9 145.7,292.0 184.2,290.6 242.1,291.1" fill="none" stroke="#e33314" stroke-width="1.1"/>
<polyline points="126.4,318.9 145.7,304.7 184.2,301.6 242.1,302.4" fill="none" stroke="#e02410" stroke-width="1.1"/>
<polyline points="126.4,318.9 145.7,295.0 184.2,293.0 242.1,292.7" fill="none" stroke="#de200c" stroke-width="1.1"/>
<polyline points="126.4,318.9 145.7,294.8 184.2,295.5 242.1,295.1" fill="none" stroke="#dc1d0b" stroke-width="1.1"/>
<polyline points="126.4,318.9 145.7,302.9 184.2,301.2 242.1,301.1" fill="none" stroke="#e0240f" stroke-width="1.1"/>
<polyline points="126.4,318.9 145.7,299.9 184.2,302.5 242.1,302.9" fill="none" stroke="#e23013" stroke-width="1.1"/>
<polyline points="126.4,318.9 145.7,295.7 184.2,297.8 242.1,297.9" fill="none" stroke="#e0230f" stroke-width="1.1"/>
<polyline points="126.4,318.9 145.7,300.6 184.2,300.1 242.1,298.6" fill="none" stroke="#e0230f" stroke-width="1.1"/>
<polyline points="126.4,318.9 145.7,296.4 184.2,296.8 242.1,299.9" fill="none" stroke="#e22b13" stroke-width="1.1"/>
<polyline points="126.4,318.9 145.7,306.8 184.2,309.2 242.1,306.5" fill="none" stroke="#e22a12" stroke-width="1.1"/>
<polyline points="126.4,318.9 145.7,307.0 184.2,309.7 242.1,305.6" fill="none" stroke="#e33214" stroke-width="1.1"/>
<polyline points="126.4,318.9 145.7,301.8 184.2,300.8 242.1,300.3" fill="none" stroke="#e0240f" stroke-width="1.1"/>
<polyline points="126.4,318.9 145.7,298.1 184.2,299.2 242.1,299.9" fill="none" stroke="#e22e13" stroke-width="1.1"/>
<polyline points="126.4,318.9 145.7,303.4 184.2,302.1 242.1,302.2" fill="none" stroke="#e12610" stroke-width="1.1"/>
<polyline points="126.4,318.9 145.7,303.0 184.2,303.8 242.1,303.1" fill="none" stroke="#dd1e0b" stroke-width="1.1"/>
<polyline points="126.4,318.9 145.7,292.6 184.2,292.6 242.1,292.1" fill="none" stroke="#e02410" stroke-width="1.1"/>
<polyline points="126.4,318.9 145.7,299.7 184.2,301.9 242.1,301.5" fill="none" stroke="#df220e" stroke-width="1.1"/>
<polyline points="126.4,318.9 145.7,295.0 184.2,293.3 242.1,294.9" fill="none" stroke="#de210d" stroke-width="1.1"/>
<polyline points="126.4,318.9 145.7,299.7 184.2,297.6 242.1,298.3" fill="none" stroke="#e22c13" stroke-width="1.1"/>
<polyline points="126.4,318.9 145.7,297.1 184.2,293.8 242.1,295.9" fill="none" stroke="#dd1e0c" stroke-width="1.1"/>
<polyline points="126.4,318.9 145.7,291.6 184.2,292.9 242.1,291.8" fill="none" stroke="#e22c13" stroke-width="1.1"/>
<polyline points="126.4,318.9 145.7,295.7 184.2,292.4 242.1,296.3" fill="none" stroke="#dc1c0a" stroke-width="1.1"/>
<polyline points="126.4,318.9 145.7,304.1 184.2,302.7 242.1,301.9" fill="none" stroke="#e23013" stroke-width="1.1"/>
<polyline points="126.4,318.9 145.7,298.1 184.2,298.7 242.1,301.3" fill="none" stroke="#dd1d0b" stroke-width="1.1"/>
<polyline points="126.4,318.9 145.7,305.9 184.2,306.8 242.1,307.0" fill="none" stroke="#e33414" stroke-width="1.1"/>
<polyline points="126.4,318.9 145.7,300.1 184.2,298.6 242.1,299.4" fill="none" stroke="#e22c13" stroke-width="1.1"/>
<polyline points="126.4,318.9 145.7,306.3 184.2,305.8 242.1,308.2" fill="none" stroke="#de210d" stroke-width="1.1"/>
<polyline points="126.4,318.9 145.7,303.5 184.2,304.9 242.1,305.1" fill="none" stroke="#e22712" stroke-width="1.1"/>
<polyline points="126.4,318.9 145.7,307.7 184.2,308.7 242.1,307.8" fill="none" stroke="#e33314" stroke-width="1.1"/>
<polyline points="126.4,318.9 145.7,303.5 184.2,306.9 242.1,307.5" fill="none" stroke="#df210d" stroke-width="1.1"/>
<polyline points="126.4,318.9 145.7,294.8 184.2,294.6 242.1,295.8" fill="none" stroke="#e0230f" stroke-width="1.1"/>
<polyline points="126.4,318.9 145.7,305.0 184.2,305.6 242.1,305.9" fill="none" stroke="#e22711" stroke-width="1.1"/>
<polyline points="126.4,318.9 145.7,299.5 184.2,299.5 242.1,300.3" fill="none" stroke="#e33114" stroke-width="1.1"/>
<polyline points="126.4,318.9 145.7,293.0 184.2,292.0 242.1,293.4" fill="none" stroke="#dd1d0b" stroke-width="1.1"/>
<polyline points="126.4,318.9 145.7,305.9 184.2,303.5 242.1,304.7" fill="none" stroke="#e22711" stroke-width="1.1"/>
<polyline points="126.4,318.9 145.7,324.6 184.2,325.6 242.1,325.7" fill="none" stroke="#254483" stroke-width="1.1"/>
<polyline points="126.4,318.9 145.7,325.9 184.2,326.8 242.1,327.0" fill="none" stroke="#22417f" stroke-width="1.1"/>
<polyline points="126.4,318.9 145.7,325.0 184.2,326.0 242.1,326.4" fill="none" stroke="#294b8d" stroke-width="1.1"/>
<polyline points="126.4,318.9 145.7,325.6 184.2,326.9 242.1,327.2" fill="none" stroke="#294a8b" stroke-width="1.1"/>
<polyline points="126.4,318.9 145.7,326.1 184.2,326.9 242.1,327.3" fill="none" stroke="#274888" stroke-width="1.1"/>
<polyline points="126.4,318.9 145.7,324.2 184.2,325.3 242.1,325.3" fill="none" stroke="#254484" stroke-width="1.1"/>
<polyline points="126.4,318.9 145.7,325.5 184.2,326.2 242.1,326.9" fill="none" stroke="#294b8c" stroke-width="1.1"/>
<polyline points="126.4,318.9 145.7,326.5 184.2,327.4 242.1,327.9" fill="none" stroke="#274787" stroke-width="1.1"/>
<polyline points="126.4,318.9 145.7,335.3 184.2,333.4 242.1,330.8" fill="none" stroke="#6a98dc" stroke-width="1.1"/>
<polyline points="126.4,318.9 145.7,341.5 184.2,335.9 242.1,334.0" fill="none" stroke="#6a98dc" stroke-width="1.1"/>
<polyline points="126.4,318.9 145.7,344.5 184.2,344.5 242.1,341.7" fill="none" stroke="#6a9ae0" stroke-width="1.1"/>
<polyline points="309.3,319.2 328.6,278.5 367.1,333.6 425.0,322.1" fill="none" stroke="#a8a068" stroke-width="1.1"/>
<polyline points="309.3,319.2 328.6,286.7 367.1,310.7 425.0,310.4" fill="none" stroke="#e7631f" stroke-width="1.1"/>
<polyline points="309.3,319.2 328.6,292.2 367.1,309.7 425.0,311.2" fill="none" stroke="#e5551b" stroke-width="1.1"/>
<polyline points="309.3,319.2 328.6,275.1 367.1,309.9 425.0,310.1" fill="none" stroke="#eb902c" stroke-width="1.1"/>
<polyline points="309.3,319.2 328.6,278.1 367.1,310.1 425.0,311.5" fill="none" stroke="#eb912c" stroke-width="1.1"/>
<polyline points="309.3,319.2 328.6,294.8 367.1,308.0 425.0,311.3" fill="none" stroke="#e5561b" stroke-width="1.1"/>
<polyline points="309.3,319.2 328.6,283.4 367.1,307.5 425.0,310.2" fill="none" stroke="#eb7f27" stroke-width="1.1"/>
<polyline points="309.3,319.2 328.6,283.0 367.1,308.5 425.0,310.6" fill="none" stroke="#ea7c26" stroke-width="1.1"/>
<polyline points="309.3,319.2 328.6,286.5 367.1,309.3 425.0,311.5" fill="none" stroke="#e96d22" stroke-width="1.1"/>
<polyline points="309.3,319.2 328.6,285.7 367.1,309.0 425.0,309.8" fill="none" stroke="#e96e22" stroke-width="1.1"/>
<polyline points="309.3,319.2 328.6,297.5 367.1,308.9 425.0,312.4" fill="none" stroke="#e5521a" stroke-width="1.1"/>
<polyline points="309.3,319.2 328.6,281.2 367.1,309.0 425.0,311.5" fill="none" stroke="#eb8b2a" stroke-width="1.1"/>
<polyline points="309.3,319.2 328.6,290.7 367.1,310.4 425.0,311.5" fill="none" stroke="#e86520" stroke-width="1.1"/>
<polyline points="309.3,319.2 328.6,273.5 367.1,307.9 425.0,311.1" fill="none" stroke="#ec9f30" stroke-width="1.1"/>
<polyline points="309.3,319.2 328.6,296.3 367.1,309.8 425.0,311.4" fill="none" stroke="#e44f19" stroke-width="1.1"/>
<polyline points="309.3,319.2 328.6,274.5 367.1,307.3 425.0,311.0" fill="none" stroke="#eb8529" stroke-width="1.1"/>
<polyline points="309.3,319.2 328.6,291.9 367.1,309.9 425.0,311.1" fill="none" stroke="#e7611e" stroke-width="1.1"/>
<polyline points="309.3,319.2 328.6,280.9 367.1,308.4 425.0,311.5" fill="none" stroke="#eb8c2b" stroke-width="1.1"/>
<polyline points="309.3,319.2 328.6,280.4 367.1,310.5 425.0,311.5" fill="none" stroke="#eb8529" stroke-width="1.1"/>
<polyline points="309.3,319.2 328.6,286.3 367.1,310.5 425.0,311.1" fill="none" stroke="#e96e22" stroke-width="1.1"/>
<polyline points="309.3,319.2 328.6,278.4 367.1,310.5 425.0,312.5" fill="none" stroke="#eb942d" stroke-width="1.1"/>
<polyline points="309.3,319.2 328.6,288.7 367.1,308.3 425.0,311.9" fill="none" stroke="#e96c22" stroke-width="1.1"/>
<polyline points="309.3,319.2 328.6,288.2 367.1,309.6 425.0,311.5" fill="none" stroke="#e86620" stroke-width="1.1"/>
<polyline points="309.3,319.2 328.6,281.5 367.1,310.4 425.0,312.1" fill="none" stroke="#eb8629" stroke-width="1.1"/>
<polyline points="309.3,319.2 328.6,283.6 367.1,310.4 425.0,310.8" fill="none" stroke="#e96d22" stroke-width="1.1"/>
<polyline points="309.3,319.2 328.6,283.0 367.1,308.6 425.0,310.1" fill="none" stroke="#e97023" stroke-width="1.1"/>
<polyline points="309.3,319.2 328.6,274.6 367.1,308.2 425.0,311.0" fill="none" stroke="#ec9b2f" stroke-width="1.1"/>
<polyline points="309.3,319.2 328.6,277.6 367.1,309.3 425.0,310.3" fill="none" stroke="#eb8f2b" stroke-width="1.1"/>
<polyline points="309.3,319.2 328.6,284.9 367.1,308.7 425.0,310.6" fill="none" stroke="#ea7925" stroke-width="1.1"/>
<polyline points="309.3,319.2 328.6,279.7 367.1,310.1 425.0,310.4" fill="none" stroke="#eb892a" stroke-width="1.1"/>
<polyline points="309.3,319.2 328.6,286.6 367.1,307.6 425.0,310.8" fill="none" stroke="#e97023" stroke-width="1.1"/>
<polyline points="309.3,319.2 328.6,281.6 367.1,310.1 425.0,310.8" fill="none" stroke="#eb8428" stroke-width="1.1"/>
<polyline points="309.3,319.2 328.6,289.2 367.1,308.0 425.0,310.5" fill="none" stroke="#e96f23" stroke-width="1.1"/>
<polyline points="309.3,319.2 328.6,291.5 367.1,309.8 425.0,310.0" fill="none" stroke="#e5521a" stroke-width="1.1"/>
<polyline points="309.3,319.2 328.6,284.8 367.1,309.3 425.0,311.0" fill="none" stroke="#e86a21" stroke-width="1.1"/>
<polyline points="309.3,319.2 328.6,281.7 367.1,308.2 425.0,312.2" fill="none" stroke="#eb8428" stroke-width="1.1"/>
<polyline points="309.3,319.2 328.6,276.6 367.1,307.8 425.0,309.5" fill="none" stroke="#eb902c" stroke-width="1.1"/>
<polyline points="309.3,319.2 328.6,300.1 367.1,310.5 425.0,311.4" fill="none" stroke="#e34016" stroke-width="1.1"/>
<polyline points="309.3,319.2 328.6,289.9 367.1,308.7 425.0,312.0" fill="none" stroke="#ea7123" stroke-width="1.1"/>
<polyline points="309.3,319.2 328.6,285.3 367.1,309.8 425.0,310.3" fill="none" stroke="#e97023" stroke-width="1.1"/>
<polyline points="309.3,319.2 328.6,275.5 367.1,309.8 425.0,311.2" fill="none" stroke="#eb892a" stroke-width="1.1"/>
<polyline points="309.3,319.2 328.6,284.1 367.1,308.6 425.0,311.8" fill="none" stroke="#ea7c26" stroke-width="1.1"/>
<polyline points="309.3,319.2 328.6,287.2 367.1,309.2 425.0,312.5" fill="none" stroke="#ea7324" stroke-width="1.1"/>
<polyline points="309.3,319.2 328.6,274.7 367.1,309.0 425.0,311.6" fill="none" stroke="#eb952d" stroke-width="1.1"/>
<polyline points="309.3,319.2 328.6,296.4 367.1,310.1 425.0,309.9" fill="none" stroke="#e44a18" stroke-width="1.1"/>
<polyline points="309.3,319.2 328.6,276.8 367.1,307.9 425.0,311.9" fill="none" stroke="#eb8c2b" stroke-width="1.1"/>
<polyline points="309.3,319.2 328.6,288.7 367.1,308.3 425.0,310.6" fill="none" stroke="#ea7625" stroke-width="1.1"/>
<polyline points="309.3,319.2 328.6,276.5 367.1,308.7 425.0,310.6" fill="none" stroke="#eb8e2b" stroke-width="1.1"/>
<polyline points="309.3,319.2 328.6,284.4 367.1,309.6 425.0,310.3" fill="none" stroke="#ea7524" stroke-width="1.1"/>
<polyline points="309.3,319.2 328.6,283.6 367.1,309.9 425.0,310.6" fill="none" stroke="#ea7a26" stroke-width="1.1"/>
<polyline points="309.3,319.2 328.6,283.6 367.1,309.2 425.0,310.6" fill="none" stroke="#ea7825" stroke-width="1.1"/>
<polyline points="309.3,319.2 328.6,289.2 367.1,308.3 425.0,309.9" fill="none" stroke="#e86520" stroke-width="1.1"/>
<polyline points="309.3,319.2 328.6,293.2 367.1,308.5 425.0,311.3" fill="none" stroke="#e44917" stroke-width="1.1"/>
<polyline points="309.3,319.2 328.6,275.1 367.1,309.6 425.0,310.3" fill="none" stroke="#ec9a2e" stroke-width="1.1"/>
<polyline points="309.3,319.2 328.6,295.7 367.1,310.1 425.0,309.5" fill="none" stroke="#e34016" stroke-width="1.1"/>
<polyline points="309.3,319.2 328.6,295.1 367.1,308.9 425.0,310.1" fill="none" stroke="#e34316" stroke-width="1.1"/>
<polyline points="309.3,319.2 328.6,287.2 367.1,309.9 425.0,311.1" fill="none" stroke="#ea7524" stroke-width="1.1"/>
<polyline points="309.3,319.2 328.6,279.6 367.1,308.7 425.0,310.1" fill="none" stroke="#ea7825" stroke-width="1.1"/>
<polyline points="309.3,319.2 328.6,280.6 367.1,307.6 425.0,311.9" fill="none" stroke="#eb7f27" stroke-width="1.1"/>
<polyline points="309.3,319.2 328.6,282.6 367.1,308.7 425.0,311.8" fill="none" stroke="#eb8529" stroke-width="1.1"/>
<polyline points="309.3,319.2 328.6,279.5 367.1,309.7 425.0,311.1" fill="none" stroke="#ea7c26" stroke-width="1.1"/>
<polyline points="309.3,319.2 328.6,264.1 367.1,308.8 425.0,310.4" fill="none" stroke="#c87828" stroke-width="1.1"/>
<polyline points="309.3,319.2 328.6,267.6 367.1,307.8 425.0,309.9" fill="none" stroke="#eca030" stroke-width="1.1"/>
<polyline points="309.3,319.2 328.6,271.5 367.1,308.1 425.0,310.4" fill="none" stroke="#f0b040" stroke-width="1.1"/>
<polyline points="309.3,319.2 328.6,297.2 367.1,315.9 425.0,314.5" fill="none" stroke="#e22a12" stroke-width="1.1"/>
<polyline points="309.3,319.2 328.6,300.5 367.1,315.6 425.0,315.2" fill="none" stroke="#e12510" stroke-width="1.1"/>
<polyline points="309.3,319.2 328.6,300.5 367.1,315.6 425.0,313.2" fill="none" stroke="#e12510" stroke-width="1.1"/>
<polyline points="309.3,319.2 328.6,300.3 367.1,316.0 425.0,315.9" fill="none" stroke="#de200d" stroke-width="1.1"/>
<polyline points="309.3,319.2 328.6,298.1 367.1,316.5 425.0,316.1" fill="none" stroke="#e22e13" stroke-width="1.1"/>
<polyline points="309.3,319.2 328.6,301.4 367.1,315.9 425.0,314.1" fill="none" stroke="#e12611" stroke-width="1.1"/>
<polyline points="309.3,319.2 328.6,302.6 367.1,316.5 425.0,315.6" fill="none" stroke="#e12611" stroke-width="1.1"/>
<polyline points="309.3,319.2 328.6,306.0 367.1,316.4 425.0,316.6" fill="none" stroke="#df210e" stroke-width="1.1"/>
<polyline points="309.3,319.2 328.6,297.5 367.1,313.4 425.0,313.8" fill="none" stroke="#e23113" stroke-width="1.1"/>
<polyline points="309.3,319.2 328.6,302.8 367.1,313.2 425.0,314.6" fill="none" stroke="#df220e" stroke-width="1.1"/>
<polyline points="309.3,319.2 328.6,302.7 367.1,314.7 425.0,316.8" fill="none" stroke="#e22712" stroke-width="1.1"/>
<polyline points="309.3,319.2 328.6,298.1 367.1,316.2 425.0,316.7" fill="none" stroke="#dd1e0b" stroke-width="1.1"/>
<polyline points="309.3,319.2 328.6,306.2 367.1,315.4 425.0,314.1" fill="none" stroke="#df210e" stroke-width="1.1"/>
<polyline points="309.3,319.2 328.6,301.3 367.1,314.7 425.0,314.4" fill="none" stroke="#e22d13" stroke-width="1.1"/>
<polyline points="309.3,319.2 328.6,303.5 367.1,315.3 425.0,314.4" fill="none" stroke="#e12711" stroke-width="1.1"/>
<polyline points="309.3,319.2 328.6,296.3 367.1,315.5 425.0,314.9" fill="none" stroke="#e22f13" stroke-width="1.1"/>
<polyline points="309.3,319.2 328.6,303.5 367.1,314.1 425.0,312.9" fill="none" stroke="#e12611" stroke-width="1.1"/>
<polyline points="309.3,319.2 328.6,304.4 367.1,313.3 425.0,314.6" fill="none" stroke="#dd1d0b" stroke-width="1.1"/>
<polyline points="309.3,319.2 328.6,299.5 367.1,314.8 425.0,316.0" fill="none" stroke="#e0230f" stroke-width="1.1"/>
<polyline points="309.3,319.2 328.6,302.1 367.1,313.6 425.0,313.5" fill="none" stroke="#dd1e0b" stroke-width="1.1"/>
<polyline points="309.3,319.2 328.6,297.0 367.1,315.5 425.0,314.3" fill="none" stroke="#e12510" stroke-width="1.1"/>
<polyline points="309.3,319.2 328.6,296.8 367.1,315.6 425.0,314.6" fill="none" stroke="#e22711" stroke-width="1.1"/>
<polyline points="309.3,319.2 328.6,303.2 367.1,315.8 425.0,315.4" fill="none" stroke="#df210e" stroke-width="1.1"/>
<polyline points="309.3,319.2 328.6,303.2 367.1,315.4 425.0,314.7" fill="none" stroke="#e23013" stroke-width="1.1"/>
<polyline points="309.3,319.2 328.6,303.5 367.1,316.3 425.0,314.1" fill="none" stroke="#e12610" stroke-width="1.1"/>
<polyline points="309.3,319.2 328.6,305.7 367.1,314.8 425.0,314.7" fill="none" stroke="#e22e13" stroke-width="1.1"/>
<polyline points="309.3,319.2 328.6,299.8 367.1,316.1 425.0,317.2" fill="none" stroke="#e12510" stroke-width="1.1"/>
<polyline points="309.3,319.2 328.6,295.4 367.1,314.9 425.0,316.3" fill="none" stroke="#e22b12" stroke-width="1.1"/>
<polyline points="309.3,319.2 328.6,306.3 367.1,315.4 425.0,314.0" fill="none" stroke="#e22a12" stroke-width="1.1"/>
<polyline points="309.3,319.2 328.6,307.4 367.1,317.0 425.0,315.2" fill="none" stroke="#e22f13" stroke-width="1.1"/>
<polyline points="309.3,319.2 328.6,302.2 367.1,315.0 425.0,314.0" fill="none" stroke="#e22c13" stroke-width="1.1"/>
<polyline points="309.3,319.2 328.6,306.3 367.1,315.3 425.0,314.5" fill="none" stroke="#dd1d0b" stroke-width="1.1"/>
<polyline points="309.3,319.2 328.6,300.4 367.1,313.2 425.0,315.5" fill="none" stroke="#e22912" stroke-width="1.1"/>
<polyline points="309.3,319.2 328.6,305.2 367.1,315.5 425.0,316.3" fill="none" stroke="#de200d" stroke-width="1.1"/>
<polyline points="309.3,319.2 328.6,304.9 367.1,315.9 425.0,314.4" fill="none" stroke="#e22711" stroke-width="1.1"/>
<polyline points="309.3,319.2 328.6,299.0 367.1,315.8 425.0,315.4" fill="none" stroke="#de200d" stroke-width="1.1"/>
<polyline points="309.3,319.2 328.6,301.1 367.1,315.3 425.0,315.5" fill="none" stroke="#e22c13" stroke-width="1.1"/>
<polyline points="309.3,319.2 328.6,298.6 367.1,314.3 425.0,315.7" fill="none" stroke="#dd1f0c" stroke-width="1.1"/>
<polyline points="309.3,319.2 328.6,305.0 367.1,316.6 425.0,317.5" fill="none" stroke="#e22b12" stroke-width="1.1"/>
<polyline points="309.3,319.2 328.6,304.0 367.1,315.7 425.0,317.0" fill="none" stroke="#e0230f" stroke-width="1.1"/>
<polyline points="309.3,319.2 328.6,305.9 367.1,314.8 425.0,315.8" fill="none" stroke="#e22b12" stroke-width="1.1"/>
<polyline points="309.3,319.2 328.6,303.4 367.1,313.8 425.0,315.5" fill="none" stroke="#dd1e0b" stroke-width="1.1"/>
<polyline points="309.3,319.2 328.6,307.2 367.1,312.7 425.0,315.8" fill="none" stroke="#e12510" stroke-width="1.1"/>
<polyline points="309.3,319.2 328.6,298.1 367.1,313.3 425.0,314.4" fill="none" stroke="#de1f0c" stroke-width="1.1"/>
<polyline points="309.3,319.2 328.6,294.5 367.1,315.3 425.0,314.7" fill="none" stroke="#df220e" stroke-width="1.1"/>
<polyline points="309.3,319.2 328.6,302.3 367.1,314.0 425.0,314.6" fill="none" stroke="#df230e" stroke-width="1.1"/>
<polyline points="309.3,319.2 328.6,299.6 367.1,315.2 425.0,315.5" fill="none" stroke="#df230e" stroke-width="1.1"/>
<polyline points="309.3,319.2 328.6,302.9 367.1,313.3 425.0,315.3" fill="none" stroke="#e0230f" stroke-width="1.1"/>
<polyline points="309.3,319.2 328.6,298.1 367.1,316.2 425.0,314.3" fill="none" stroke="#e22f13" stroke-width="1.1"/>
<polyline points="309.3,319.2 328.6,299.9 367.1,316.6 425.0,315.6" fill="none" stroke="#e12510" stroke-width="1.1"/>
<polyline points="309.3,319.2 328.6,296.9 367.1,315.4 425.0,315.5" fill="none" stroke="#e12510" stroke-width="1.1"/>
<polyline points="309.3,319.2 328.6,299.6 367.1,314.1 425.0,315.9" fill="none" stroke="#e12611" stroke-width="1.1"/>
<polyline points="309.3,319.2 328.6,304.4 367.1,314.5 425.0,315.3" fill="none" stroke="#e22e13" stroke-width="1.1"/>
<polyline points="309.3,319.2 328.6,301.1 367.1,315.7 425.0,314.4" fill="none" stroke="#dc1c0a" stroke-width="1.1"/>
<polyline points="309.3,319.2 328.6,299.9 367.1,316.0 425.0,314.2" fill="none" stroke="#e22f13" stroke-width="1.1"/>
<polyline points="309.3,319.2 328.6,296.0 367.1,313.0 425.0,312.9" fill="none" stroke="#de1f0c" stroke-width="1.1"/>
<polyline points="309.3,319.2 328.6,298.8 367.1,316.0 425.0,315.2" fill="none" stroke="#dd1e0b" stroke-width="1.1"/>
<polyline points="309.3,319.2 328.6,301.9 367.1,315.7 425.0,315.5" fill="none" stroke="#e22a12" stroke-width="1.1"/>
<polyline points="309.3,319.2 328.6,298.0 367.1,314.2 425.0,315.5" fill="none" stroke="#de200d" stroke-width="1.1"/>
<polyline points="309.3,319.2 328.6,298.4 367.1,314.5 425.0,315.4" fill="none" stroke="#e22711" stroke-width="1.1"/>
<polyline points="309.3,319.2 328.6,299.4 367.1,314.7 425.0,313.8" fill="none" stroke="#e22812" stroke-width="1.1"/>
<polyline points="309.3,319.2 328.6,298.0 367.1,314.3 425.0,314.7" fill="none" stroke="#e23013" stroke-width="1.1"/>
<polyline points="309.3,319.2 328.6,302.8 367.1,316.0 425.0,316.1" fill="none" stroke="#e12510" stroke-width="1.1"/>
<polyline points="309.3,319.2 328.6,305.1 367.1,315.3 425.0,315.5" fill="none" stroke="#e22b12" stroke-width="1.1"/>
<polyline points="309.3,319.2 328.6,305.0 367.1,314.2 425.0,315.8" fill="none" stroke="#df220e" stroke-width="1.1"/>
<polyline points="309.3,319.2 328.6,296.0 367.1,316.9 425.0,315.8" fill="none" stroke="#df210e" stroke-width="1.1"/>
<polyline points="309.3,319.2 328.6,298.9 367.1,313.5 425.0,315.1" fill="none" stroke="#dd1e0b" stroke-width="1.1"/>
<polyline points="309.3,319.2 328.6,302.3 367.1,316.6 425.0,316.9" fill="none" stroke="#e22912" stroke-width="1.1"/>
<polyline points="309.3,319.2 328.6,304.6 367.1,315.7 425.0,317.3" fill="none" stroke="#e22712" stroke-width="1.1"/>
<polyline points="309.3,319.2 328.6,299.0 367.1,314.2 425.0,315.0" fill="none" stroke="#e0240f" stroke-width="1.1"/>
<polyline points="309.3,319.2 328.6,303.1 367.1,312.8 425.0,314.0" fill="none" stroke="#e22f13" stroke-width="1.1"/>
<polyline points="309.3,319.2 328.6,304.5 367.1,313.9 425.0,314.8" fill="none" stroke="#df220e" stroke-width="1.1"/>
<polyline points="309.3,319.2 328.6,301.2 367.1,316.0 425.0,317.1" fill="none" stroke="#dd1e0b" stroke-width="1.1"/>
<polyline points="309.3,319.2 328.6,297.7 367.1,315.5 425.0,315.2" fill="none" stroke="#dc1c0a" stroke-width="1.1"/>
<polyline points="309.3,319.2 328.6,299.5 367.1,316.0 425.0,315.7" fill="none" stroke="#e12610" stroke-width="1.1"/>
<polyline points="309.3,319.2 328.6,300.4 367.1,313.5 425.0,315.9" fill="none" stroke="#e22e13" stroke-width="1.1"/>
<polyline points="309.3,319.2 328.6,296.4 367.1,314.1 425.0,314.3" fill="none" stroke="#e22a12" stroke-width="1.1"/>
<polyline points="309.3,319.2 328.6,305.4 367.1,314.1 425.0,315.3" fill="none" stroke="#dd1e0b" stroke-width="1.1"/>
<polyline points="309.3,319.2 328.6,301.0 367.1,315.1 425.0,315.8" fill="none" stroke="#e23013" stroke-width="1.1"/>
<polyline points="309.3,319.2 328.6,303.2 367.1,314.4 425.0,316.4" fill="none" stroke="#dd1e0b" stroke-width="1.1"/>
<polyline points="309.3,319.2 328.6,302.5 367.1,313.1 425.0,315.4" fill="none" stroke="#e22d13" stroke-width="1.1"/>
<polyline points="309.3,319.2 328.6,303.6 367.1,316.5 425.0,315.1" fill="none" stroke="#e22f13" stroke-width="1.1"/>
<polyline points="309.3,319.2 328.6,297.4 367.1,315.3 425.0,315.6" fill="none" stroke="#e22e13" stroke-width="1.1"/>
<polyline points="309.3,319.2 328.6,302.4 367.1,313.5 425.0,314.6" fill="none" stroke="#e02410" stroke-width="1.1"/>
<polyline points="309.3,319.2 328.6,303.7 367.1,313.8 425.0,314.5" fill="none" stroke="#dd1f0c" stroke-width="1.1"/>
<polyline points="309.3,319.2 328.6,302.2 367.1,314.6 425.0,315.0" fill="none" stroke="#e02510" stroke-width="1.1"/>
<polyline points="309.3,319.2 328.6,296.8 367.1,314.8 425.0,313.9" fill="none" stroke="#dd1e0b" stroke-width="1.1"/>
<polyline points="309.3,319.2 328.6,302.5 367.1,314.3 425.0,313.1" fill="none" stroke="#dd1e0b" stroke-width="1.1"/>
<polyline points="309.3,319.2 328.6,306.3 367.1,313.8 425.0,316.3" fill="none" stroke="#dd1e0b" stroke-width="1.1"/>
<polyline points="309.3,319.2 328.6,305.4 367.1,314.3 425.0,314.5" fill="none" stroke="#e0230f" stroke-width="1.1"/>
<polyline points="309.3,319.2 328.6,303.1 367.1,314.9 425.0,316.9" fill="none" stroke="#e12611" stroke-width="1.1"/>
<polyline points="309.3,319.2 328.6,303.7 367.1,313.0 425.0,313.5" fill="none" stroke="#de210d" stroke-width="1.1"/>
<polyline points="309.3,319.2 328.6,326.2 367.1,322.8 425.0,321.6" fill="none" stroke="#2b4d8f" stroke-width="1.1"/>
<polyline points="309.3,319.2 328.6,327.7 367.1,321.8 425.0,322.2" fill="none" stroke="#294b8d" stroke-width="1.1"/>
<polyline points="309.3,319.2 328.6,325.7 367.1,321.3 425.0,320.6" fill="none" stroke="#2c4f92" stroke-width="1.1"/>
<polyline points="309.3,319.2 328.6,324.2 367.1,319.8 425.0,321.9" fill="none" stroke="#30559a" stroke-width="1.1"/>
<polyline points="309.3,319.2 328.6,324.2 367.1,321.4 425.0,321.1" fill="none" stroke="#22407e" stroke-width="1.1"/>
<polyline points="309.3,319.2 328.6,325.7 367.1,323.0 425.0,322.8" fill="none" stroke="#2c4f92" stroke-width="1.1"/>
<polyline points="309.3,319.2 328.6,325.1 367.1,321.1 425.0,320.9" fill="none" stroke="#305498" stroke-width="1.1"/>
<polyline points="309.3,319.2 328.6,324.2 367.1,320.6 425.0,321.4" fill="none" stroke="#2a4b8d" stroke-width="1.1"/>
<polyline points="309.3,319.2 328.6,327.4 367.1,321.3 425.0,322.8" fill="none" stroke="#2e5195" stroke-width="1.1"/>
<polyline points="309.3,319.2 328.6,325.3 367.1,319.1 425.0,319.3" fill="none" stroke="#254484" stroke-width="1.1"/>
<polyline points="309.3,319.2 328.6,325.6 367.1,320.0 425.0,319.0" fill="none" stroke="#274888" stroke-width="1.1"/>
<polyline points="309.3,319.2 328.6,326.9 367.1,321.8 425.0,322.4" fill="none" stroke="#274787" stroke-width="1.1"/>
<polyline points="309.3,319.2 328.6,327.0 367.1,322.1 425.0,323.5" fill="none" stroke="#274889" stroke-width="1.1"/>
<polyline points="309.3,319.2 328.6,326.0 367.1,323.2 425.0,322.9" fill="none" stroke="#294a8b" stroke-width="1.1"/>
<polyline points="309.3,319.2 328.6,326.7 367.1,322.3 425.0,322.2" fill="none" stroke="#264585" stroke-width="1.1"/>
<polyline points="309.3,319.2 328.6,326.6 367.1,321.2 425.0,322.4" fill="none" stroke="#274788" stroke-width="1.1"/>
<polyline points="309.3,319.2 328.6,325.2 367.1,321.3 425.0,320.6" fill="none" stroke="#28498a" stroke-width="1.1"/>
<polyline points="309.3,319.2 328.6,327.1 367.1,322.0 425.0,320.9" fill="none" stroke="#234281" stroke-width="1.1"/>
<polyline points="309.3,319.2 328.6,323.6 367.1,320.0 425.0,321.3" fill="none" stroke="#234280" stroke-width="1.1"/>
<polyline points="309.3,319.2 328.6,325.0 367.1,319.0 425.0,320.0" fill="none" stroke="#294a8b" stroke-width="1.1"/>
<polyline points="309.3,319.2 328.6,325.6 367.1,322.0 425.0,322.2" fill="none" stroke="#2d5194" stroke-width="1.1"/>
<polyline points="309.3,319.2 328.6,328.8 367.1,323.3 425.0,324.2" fill="none" stroke="#2b4e90" stroke-width="1.1"/>
<polyline points="309.3,319.2 328.6,332.9 367.1,327.4 425.0,323.6" fill="none" stroke="#4a78c8" stroke-width="1.1"/>
<polyline points="309.3,319.2 328.6,335.0 367.1,325.2 425.0,322.1" fill="none" stroke="#34589e" stroke-width="1.1"/>
<polyline points="309.3,319.2 328.6,337.6 367.1,322.8 425.0,320.5" fill="none" stroke="#2c4c90" stroke-width="1.1"/>
<polyline points="309.3,319.2 328.6,343.2 367.1,328.3 425.0,322.8" fill="none" stroke="#5a88d4" stroke-width="1.1"/>
<polyline points="309.3,319.2 328.6,324.4 367.1,312.3 425.0,315.1" fill="none" stroke="#8a70b8" stroke-width="1.1"/>
<polyline points="309.3,319.2 328.6,330.6 367.1,315.8 425.0,318.2" fill="none" stroke="#5a88d4" stroke-width="1.1"/>
<polyline points="309.3,319.2 328.6,332.2 367.1,322.1 425.0,321.3" fill="none" stroke="#30549a" stroke-width="1.1"/>
<line x1="38.75" y1="37.00" x2="38.75" y2="162.60" stroke="#000" stroke-width="1.3"/>
<line x1="35.15" y1="149.80" x2="38.75" y2="149.80" stroke="#000" stroke-width="1.1"/>
<text transform="translate(31.85 153.70) scale(0.88 1)" font-size="9.6" text-anchor="end" fill="#222" stroke="#222" stroke-width="0.12">−2</text>
<line x1="35.15" y1="118.70" x2="38.75" y2="118.70" stroke="#000" stroke-width="1.1"/>
<text transform="translate(31.85 122.60) scale(0.88 1)" font-size="9.6" text-anchor="end" fill="#222" stroke="#222" stroke-width="0.12">0</text>
<line x1="35.15" y1="87.60" x2="38.75" y2="87.60" stroke="#000" stroke-width="1.1"/>
<text transform="translate(31.85 91.50) scale(0.88 1)" font-size="9.6" text-anchor="end" fill="#222" stroke="#222" stroke-width="0.12">2</text>
<line x1="35.15" y1="56.50" x2="38.75" y2="56.50" stroke="#000" stroke-width="1.1"/>
<text transform="translate(31.85 60.40) scale(0.88 1)" font-size="9.6" text-anchor="end" fill="#222" stroke="#222" stroke-width="0.12">4</text>
<line x1="41.60" y1="163.10" x2="163.50" y2="163.10" stroke="#000" stroke-width="1.3"/>
<line x1="44.40" y1="163.10" x2="44.40" y2="166.30" stroke="#000" stroke-width="1.1"/>
<text transform="translate(44.40 176.50) scale(0.88 1)" font-size="9.6" text-anchor="middle" fill="#222" stroke="#222" stroke-width="0.12">0</text>
<line x1="63.67" y1="163.10" x2="63.67" y2="166.30" stroke="#000" stroke-width="1.1"/>
<text transform="translate(63.67 176.50) scale(0.88 1)" font-size="9.6" text-anchor="middle" fill="#222" stroke="#222" stroke-width="0.12">10</text>
<line x1="82.93" y1="163.10" x2="82.93" y2="166.30" stroke="#000" stroke-width="1.1"/>
<text transform="translate(82.93 176.50) scale(0.88 1)" font-size="9.6" text-anchor="middle" fill="#222" stroke="#222" stroke-width="0.12">20</text>
<line x1="102.20" y1="163.10" x2="102.20" y2="166.30" stroke="#000" stroke-width="1.1"/>
<text transform="translate(102.20 176.50) scale(0.88 1)" font-size="9.6" text-anchor="middle" fill="#222" stroke="#222" stroke-width="0.12">30</text>
<line x1="121.47" y1="163.10" x2="121.47" y2="166.30" stroke="#000" stroke-width="1.1"/>
<text transform="translate(121.47 176.50) scale(0.88 1)" font-size="9.6" text-anchor="middle" fill="#222" stroke="#222" stroke-width="0.12">40</text>
<line x1="140.73" y1="163.10" x2="140.73" y2="166.30" stroke="#000" stroke-width="1.1"/>
<text transform="translate(140.73 176.50) scale(0.88 1)" font-size="9.6" text-anchor="middle" fill="#222" stroke="#222" stroke-width="0.12">50</text>
<line x1="160.00" y1="163.10" x2="160.00" y2="166.30" stroke="#000" stroke-width="1.1"/>
<text transform="translate(160.00 176.50) scale(0.88 1)" font-size="9.6" text-anchor="middle" fill="#222" stroke="#222" stroke-width="0.12">60</text>
<text x="102.20" y="190.10" font-size="10.5" textLength="80" lengthAdjust="spacingAndGlyphs" text-anchor="middle" fill="#1a1a1a" stroke="#1a1a1a" stroke-width="0.25">ADP stimulation (s)</text>
<text x="16.75" y="99.80" font-size="10.2" textLength="41.5" lengthAdjust="spacingAndGlyphs" text-anchor="middle" fill="#1a1a1a" stroke="#1a1a1a" stroke-width="0.22" transform="rotate(-90 16.75 99.80)">Log2 ratio</text>
<rect x="105.90" y="46.20" width="8.2" height="3.8" fill="url(#gup)"/>
<rect x="105.90" y="58.00" width="8.2" height="3.8" fill="url(#gdn)"/>
<text x="117.20" y="50.70" font-size="8" fill="#111" stroke="#111" stroke-width="0.2">Up (329)</text>
<text x="117.20" y="62.60" font-size="8" fill="#111" stroke="#111" stroke-width="0.2">Down (46)</text>
<line x1="212.50" y1="37.00" x2="212.50" y2="162.60" stroke="#000" stroke-width="1.3"/>
<line x1="208.90" y1="149.80" x2="212.50" y2="149.80" stroke="#000" stroke-width="1.1"/>
<text transform="translate(205.60 153.70) scale(0.88 1)" font-size="9.6" text-anchor="end" fill="#222" stroke="#222" stroke-width="0.12">−2</text>
<line x1="208.90" y1="118.70" x2="212.50" y2="118.70" stroke="#000" stroke-width="1.1"/>
<text transform="translate(205.60 122.60) scale(0.88 1)" font-size="9.6" text-anchor="end" fill="#222" stroke="#222" stroke-width="0.12">0</text>
<line x1="208.90" y1="87.60" x2="212.50" y2="87.60" stroke="#000" stroke-width="1.1"/>
<text transform="translate(205.60 91.50) scale(0.88 1)" font-size="9.6" text-anchor="end" fill="#222" stroke="#222" stroke-width="0.12">2</text>
<line x1="208.90" y1="56.50" x2="212.50" y2="56.50" stroke="#000" stroke-width="1.1"/>
<text transform="translate(205.60 60.40) scale(0.88 1)" font-size="9.6" text-anchor="end" fill="#222" stroke="#222" stroke-width="0.12">4</text>
<line x1="215.70" y1="163.10" x2="335.70" y2="163.10" stroke="#000" stroke-width="1.3"/>
<line x1="218.50" y1="163.10" x2="218.50" y2="166.30" stroke="#000" stroke-width="1.1"/>
<text transform="translate(218.50 176.50) scale(0.88 1)" font-size="9.6" text-anchor="middle" fill="#222" stroke="#222" stroke-width="0.12">0</text>
<line x1="237.45" y1="163.10" x2="237.45" y2="166.30" stroke="#000" stroke-width="1.1"/>
<text transform="translate(237.45 176.50) scale(0.88 1)" font-size="9.6" text-anchor="middle" fill="#222" stroke="#222" stroke-width="0.12">10</text>
<line x1="256.40" y1="163.10" x2="256.40" y2="166.30" stroke="#000" stroke-width="1.1"/>
<text transform="translate(256.40 176.50) scale(0.88 1)" font-size="9.6" text-anchor="middle" fill="#222" stroke="#222" stroke-width="0.12">20</text>
<line x1="275.35" y1="163.10" x2="275.35" y2="166.30" stroke="#000" stroke-width="1.1"/>
<text transform="translate(275.35 176.50) scale(0.88 1)" font-size="9.6" text-anchor="middle" fill="#222" stroke="#222" stroke-width="0.12">30</text>
<line x1="294.30" y1="163.10" x2="294.30" y2="166.30" stroke="#000" stroke-width="1.1"/>
<text transform="translate(294.30 176.50) scale(0.88 1)" font-size="9.6" text-anchor="middle" fill="#222" stroke="#222" stroke-width="0.12">40</text>
<line x1="313.25" y1="163.10" x2="313.25" y2="166.30" stroke="#000" stroke-width="1.1"/>
<text transform="translate(313.25 176.50) scale(0.88 1)" font-size="9.6" text-anchor="middle" fill="#222" stroke="#222" stroke-width="0.12">50</text>
<line x1="332.20" y1="163.10" x2="332.20" y2="166.30" stroke="#000" stroke-width="1.1"/>
<text transform="translate(332.20 176.50) scale(0.88 1)" font-size="9.6" text-anchor="middle" fill="#222" stroke="#222" stroke-width="0.12">60</text>
<text x="275.35" y="190.10" font-size="10.5" textLength="80" lengthAdjust="spacingAndGlyphs" text-anchor="middle" fill="#1a1a1a" stroke="#1a1a1a" stroke-width="0.25">ADP stimulation (s)</text>
<text x="190.50" y="99.80" font-size="10.2" textLength="41.5" lengthAdjust="spacingAndGlyphs" text-anchor="middle" fill="#1a1a1a" stroke="#1a1a1a" stroke-width="0.22" transform="rotate(-90 190.50 99.80)">Log2 ratio</text>
<rect x="279.05" y="46.20" width="8.2" height="3.8" fill="url(#gup)"/>
<rect x="279.05" y="58.00" width="8.2" height="3.8" fill="url(#gdn)"/>
<text x="290.35" y="50.70" font-size="8" fill="#111" stroke="#111" stroke-width="0.2">Up (35)</text>
<text x="290.35" y="62.60" font-size="8" fill="#111" stroke="#111" stroke-width="0.2">Down (10)</text>
<line x1="387.25" y1="37.00" x2="387.25" y2="162.60" stroke="#000" stroke-width="1.3"/>
<line x1="383.65" y1="149.80" x2="387.25" y2="149.80" stroke="#000" stroke-width="1.1"/>
<text transform="translate(380.35 153.70) scale(0.88 1)" font-size="9.6" text-anchor="end" fill="#222" stroke="#222" stroke-width="0.12">−2</text>
<line x1="383.65" y1="118.70" x2="387.25" y2="118.70" stroke="#000" stroke-width="1.1"/>
<text transform="translate(380.35 122.60) scale(0.88 1)" font-size="9.6" text-anchor="end" fill="#222" stroke="#222" stroke-width="0.12">0</text>
<line x1="383.65" y1="87.60" x2="387.25" y2="87.60" stroke="#000" stroke-width="1.1"/>
<text transform="translate(380.35 91.50) scale(0.88 1)" font-size="9.6" text-anchor="end" fill="#222" stroke="#222" stroke-width="0.12">2</text>
<line x1="383.65" y1="56.50" x2="387.25" y2="56.50" stroke="#000" stroke-width="1.1"/>
<text transform="translate(380.35 60.40) scale(0.88 1)" font-size="9.6" text-anchor="end" fill="#222" stroke="#222" stroke-width="0.12">4</text>
<line x1="390.20" y1="163.10" x2="510.80" y2="163.10" stroke="#000" stroke-width="1.3"/>
<line x1="393.00" y1="163.10" x2="393.00" y2="166.30" stroke="#000" stroke-width="1.1"/>
<text transform="translate(393.00 176.50) scale(0.88 1)" font-size="9.6" text-anchor="middle" fill="#222" stroke="#222" stroke-width="0.12">0</text>
<line x1="412.05" y1="163.10" x2="412.05" y2="166.30" stroke="#000" stroke-width="1.1"/>
<text transform="translate(412.05 176.50) scale(0.88 1)" font-size="9.6" text-anchor="middle" fill="#222" stroke="#222" stroke-width="0.12">10</text>
<line x1="431.10" y1="163.10" x2="431.10" y2="166.30" stroke="#000" stroke-width="1.1"/>
<text transform="translate(431.10 176.50) scale(0.88 1)" font-size="9.6" text-anchor="middle" fill="#222" stroke="#222" stroke-width="0.12">20</text>
<line x1="450.15" y1="163.10" x2="450.15" y2="166.30" stroke="#000" stroke-width="1.1"/>
<text transform="translate(450.15 176.50) scale(0.88 1)" font-size="9.6" text-anchor="middle" fill="#222" stroke="#222" stroke-width="0.12">30</text>
<line x1="469.20" y1="163.10" x2="469.20" y2="166.30" stroke="#000" stroke-width="1.1"/>
<text transform="translate(469.20 176.50) scale(0.88 1)" font-size="9.6" text-anchor="middle" fill="#222" stroke="#222" stroke-width="0.12">40</text>
<line x1="488.25" y1="163.10" x2="488.25" y2="166.30" stroke="#000" stroke-width="1.1"/>
<text transform="translate(488.25 176.50) scale(0.88 1)" font-size="9.6" text-anchor="middle" fill="#222" stroke="#222" stroke-width="0.12">50</text>
<line x1="507.30" y1="163.10" x2="507.30" y2="166.30" stroke="#000" stroke-width="1.1"/>
<text transform="translate(507.30 176.50) scale(0.88 1)" font-size="9.6" text-anchor="middle" fill="#222" stroke="#222" stroke-width="0.12">60</text>
<text x="450.15" y="190.10" font-size="10.5" textLength="80" lengthAdjust="spacingAndGlyphs" text-anchor="middle" fill="#1a1a1a" stroke="#1a1a1a" stroke-width="0.25">ADP stimulation (s)</text>
<text x="365.25" y="99.80" font-size="10.2" textLength="41.5" lengthAdjust="spacingAndGlyphs" text-anchor="middle" fill="#1a1a1a" stroke="#1a1a1a" stroke-width="0.22" transform="rotate(-90 365.25 99.80)">Log2 ratio</text>
<rect x="453.85" y="46.20" width="8.2" height="3.8" fill="url(#gup)"/>
<rect x="453.85" y="58.00" width="8.2" height="3.8" fill="url(#gdn)"/>
<text x="465.15" y="50.70" font-size="8" fill="#111" stroke="#111" stroke-width="0.2">Up (32)</text>
<text x="465.15" y="62.60" font-size="8" fill="#111" stroke="#111" stroke-width="0.2">Down (16)</text>
<line x1="120.50" y1="235.70" x2="120.50" y2="361.30" stroke="#000" stroke-width="1.3"/>
<line x1="116.90" y1="348.50" x2="120.50" y2="348.50" stroke="#000" stroke-width="1.1"/>
<text transform="translate(113.60 352.40) scale(0.88 1)" font-size="9.6" text-anchor="end" fill="#222" stroke="#222" stroke-width="0.12">−2</text>
<line x1="116.90" y1="317.40" x2="120.50" y2="317.40" stroke="#000" stroke-width="1.1"/>
<text transform="translate(113.60 321.30) scale(0.88 1)" font-size="9.6" text-anchor="end" fill="#222" stroke="#222" stroke-width="0.12">0</text>
<line x1="116.90" y1="286.30" x2="120.50" y2="286.30" stroke="#000" stroke-width="1.1"/>
<text transform="translate(113.60 290.20) scale(0.88 1)" font-size="9.6" text-anchor="end" fill="#222" stroke="#222" stroke-width="0.12">2</text>
<line x1="116.90" y1="255.20" x2="120.50" y2="255.20" stroke="#000" stroke-width="1.1"/>
<text transform="translate(113.60 259.10) scale(0.88 1)" font-size="9.6" text-anchor="end" fill="#222" stroke="#222" stroke-width="0.12">4</text>
<line x1="123.60" y1="361.80" x2="245.60" y2="361.80" stroke="#000" stroke-width="1.3"/>
<line x1="126.40" y1="361.80" x2="126.40" y2="365.00" stroke="#000" stroke-width="1.1"/>
<text transform="translate(126.40 375.20) scale(0.88 1)" font-size="9.6" text-anchor="middle" fill="#222" stroke="#222" stroke-width="0.12">0</text>
<line x1="145.68" y1="361.80" x2="145.68" y2="365.00" stroke="#000" stroke-width="1.1"/>
<text transform="translate(145.68 375.20) scale(0.88 1)" font-size="9.6" text-anchor="middle" fill="#222" stroke="#222" stroke-width="0.12">10</text>
<line x1="164.97" y1="361.80" x2="164.97" y2="365.00" stroke="#000" stroke-width="1.1"/>
<text transform="translate(164.97 375.20) scale(0.88 1)" font-size="9.6" text-anchor="middle" fill="#222" stroke="#222" stroke-width="0.12">20</text>
<line x1="184.25" y1="361.80" x2="184.25" y2="365.00" stroke="#000" stroke-width="1.1"/>
<text transform="translate(184.25 375.20) scale(0.88 1)" font-size="9.6" text-anchor="middle" fill="#222" stroke="#222" stroke-width="0.12">30</text>
<line x1="203.53" y1="361.80" x2="203.53" y2="365.00" stroke="#000" stroke-width="1.1"/>
<text transform="translate(203.53 375.20) scale(0.88 1)" font-size="9.6" text-anchor="middle" fill="#222" stroke="#222" stroke-width="0.12">40</text>
<line x1="222.82" y1="361.80" x2="222.82" y2="365.00" stroke="#000" stroke-width="1.1"/>
<text transform="translate(222.82 375.20) scale(0.88 1)" font-size="9.6" text-anchor="middle" fill="#222" stroke="#222" stroke-width="0.12">50</text>
<line x1="242.10" y1="361.80" x2="242.10" y2="365.00" stroke="#000" stroke-width="1.1"/>
<text transform="translate(242.10 375.20) scale(0.88 1)" font-size="9.6" text-anchor="middle" fill="#222" stroke="#222" stroke-width="0.12">60</text>
<text x="184.25" y="388.80" font-size="10.5" textLength="80" lengthAdjust="spacingAndGlyphs" text-anchor="middle" fill="#1a1a1a" stroke="#1a1a1a" stroke-width="0.25">ADP stimulation (s)</text>
<text x="98.50" y="298.50" font-size="10.2" textLength="41.5" lengthAdjust="spacingAndGlyphs" text-anchor="middle" fill="#1a1a1a" stroke="#1a1a1a" stroke-width="0.22" transform="rotate(-90 98.50 298.50)">Log2 ratio</text>
<rect x="187.95" y="243.90" width="8.2" height="3.8" fill="url(#gup)"/>
<rect x="187.95" y="255.70" width="8.2" height="3.8" fill="url(#gdn)"/>
<text x="199.25" y="248.40" font-size="8" fill="#111" stroke="#111" stroke-width="0.2">Up (140)</text>
<text x="199.25" y="260.30" font-size="8" fill="#111" stroke="#111" stroke-width="0.2">Down (11)</text>
<line x1="303.75" y1="235.70" x2="303.75" y2="361.30" stroke="#000" stroke-width="1.3"/>
<line x1="300.15" y1="348.50" x2="303.75" y2="348.50" stroke="#000" stroke-width="1.1"/>
<text transform="translate(296.85 352.40) scale(0.88 1)" font-size="9.6" text-anchor="end" fill="#222" stroke="#222" stroke-width="0.12">−2</text>
<line x1="300.15" y1="317.40" x2="303.75" y2="317.40" stroke="#000" stroke-width="1.1"/>
<text transform="translate(296.85 321.30) scale(0.88 1)" font-size="9.6" text-anchor="end" fill="#222" stroke="#222" stroke-width="0.12">0</text>
<line x1="300.15" y1="286.30" x2="303.75" y2="286.30" stroke="#000" stroke-width="1.1"/>
<text transform="translate(296.85 290.20) scale(0.88 1)" font-size="9.6" text-anchor="end" fill="#222" stroke="#222" stroke-width="0.12">2</text>
<line x1="300.15" y1="255.20" x2="303.75" y2="255.20" stroke="#000" stroke-width="1.1"/>
<text transform="translate(296.85 259.10) scale(0.88 1)" font-size="9.6" text-anchor="end" fill="#222" stroke="#222" stroke-width="0.12">4</text>
<line x1="306.50" y1="361.80" x2="428.50" y2="361.80" stroke="#000" stroke-width="1.3"/>
<line x1="309.30" y1="361.80" x2="309.30" y2="365.00" stroke="#000" stroke-width="1.1"/>
<text transform="translate(309.30 375.20) scale(0.88 1)" font-size="9.6" text-anchor="middle" fill="#222" stroke="#222" stroke-width="0.12">0</text>
<line x1="328.58" y1="361.80" x2="328.58" y2="365.00" stroke="#000" stroke-width="1.1"/>
<text transform="translate(328.58 375.20) scale(0.88 1)" font-size="9.6" text-anchor="middle" fill="#222" stroke="#222" stroke-width="0.12">10</text>
<line x1="347.87" y1="361.80" x2="347.87" y2="365.00" stroke="#000" stroke-width="1.1"/>
<text transform="translate(347.87 375.20) scale(0.88 1)" font-size="9.6" text-anchor="middle" fill="#222" stroke="#222" stroke-width="0.12">20</text>
<line x1="367.15" y1="361.80" x2="367.15" y2="365.00" stroke="#000" stroke-width="1.1"/>
<text transform="translate(367.15 375.20) scale(0.88 1)" font-size="9.6" text-anchor="middle" fill="#222" stroke="#222" stroke-width="0.12">30</text>
<line x1="386.43" y1="361.80" x2="386.43" y2="365.00" stroke="#000" stroke-width="1.1"/>
<text transform="translate(386.43 375.20) scale(0.88 1)" font-size="9.6" text-anchor="middle" fill="#222" stroke="#222" stroke-width="0.12">40</text>
<line x1="405.72" y1="361.80" x2="405.72" y2="365.00" stroke="#000" stroke-width="1.1"/>
<text transform="translate(405.72 375.20) scale(0.88 1)" font-size="9.6" text-anchor="middle" fill="#222" stroke="#222" stroke-width="0.12">50</text>
<line x1="425.00" y1="361.80" x2="425.00" y2="365.00" stroke="#000" stroke-width="1.1"/>
<text transform="translate(425.00 375.20) scale(0.88 1)" font-size="9.6" text-anchor="middle" fill="#222" stroke="#222" stroke-width="0.12">60</text>
<text x="367.15" y="388.80" font-size="10.5" textLength="80" lengthAdjust="spacingAndGlyphs" text-anchor="middle" fill="#1a1a1a" stroke="#1a1a1a" stroke-width="0.25">ADP stimulation (s)</text>
<text x="281.75" y="298.50" font-size="10.2" textLength="41.5" lengthAdjust="spacingAndGlyphs" text-anchor="middle" fill="#1a1a1a" stroke="#1a1a1a" stroke-width="0.22" transform="rotate(-90 281.75 298.50)">Log2 ratio</text>
<rect x="370.85" y="243.90" width="8.2" height="3.8" fill="url(#gup)"/>
<rect x="370.85" y="255.70" width="8.2" height="3.8" fill="url(#gdn)"/>
<text x="382.15" y="248.40" font-size="8" fill="#111" stroke="#111" stroke-width="0.2">Up (152)</text>
<text x="382.15" y="260.30" font-size="8" fill="#111" stroke="#111" stroke-width="0.2">Down (29)</text>
</svg></div></body></html>
